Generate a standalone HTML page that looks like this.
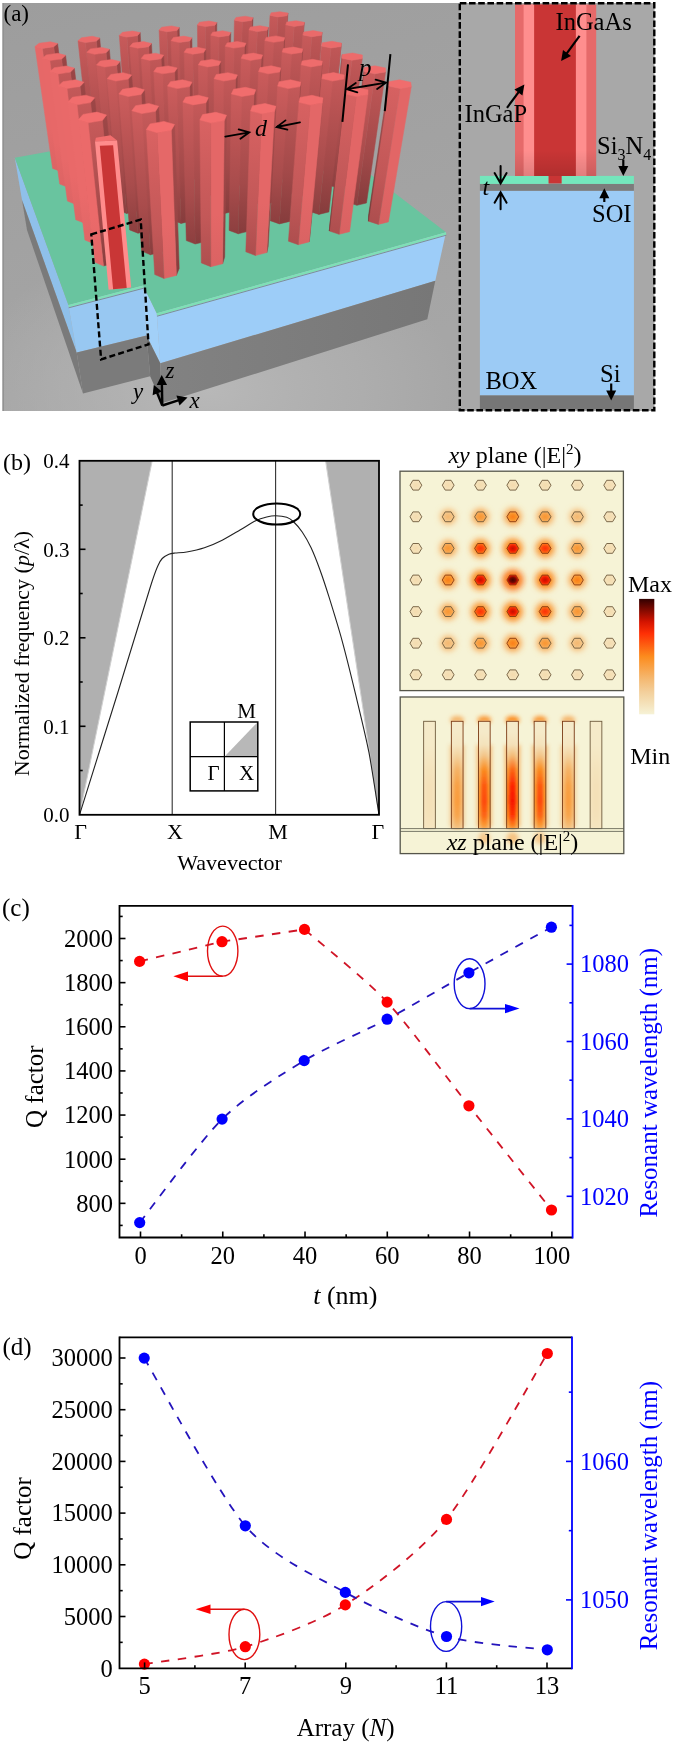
<!DOCTYPE html>
<html><head><meta charset="utf-8"><style>
html,body{margin:0;padding:0;background:#fff;overflow:hidden;width:675px;height:1744px;}
svg{display:block;font-family:"Liberation Serif",serif;} text{opacity:0.999;}
</style></head><body>
<svg width="675" height="1744" viewBox="0 0 675 1744">
<rect width="675" height="1744" fill="#fff"/>
<defs><linearGradient id="bgA" x1="0" y1="0" x2="0.3" y2="1"><stop offset="0" stop-color="#9d9d9d"/><stop offset="1" stop-color="#a6a6a6"/></linearGradient><radialGradient id="bgR" gradientUnits="userSpaceOnUse" cx="210" cy="390" r="250" gradientTransform="translate(210 390) scale(1 0.6) translate(-210 -390)"><stop offset="0" stop-color="#b8b8b8" stop-opacity="1"/><stop offset="0.6" stop-color="#b2b2b2" stop-opacity="0.6"/><stop offset="1" stop-color="#b2b2b2" stop-opacity="0"/></radialGradient><linearGradient id="gfront" x1="0" y1="0" x2="1" y2="0"><stop offset="0" stop-color="#828282"/><stop offset="1" stop-color="#777777"/></linearGradient></defs><rect x="2.5" y="3" width="457" height="408" fill="url(#bgA)"/><rect x="2.5" y="3" width="457" height="408" fill="url(#bgR)"/><rect x="2.5" y="3" width="1.5" height="408" fill="#929292"/><defs><linearGradient id="g6029" gradientUnits="userSpaceOnUse" x1="288.0" y1="13.1" x2="281.1" y2="125.2"><stop offset="0" stop-color="#ad4e4e"/><stop offset="0.3" stop-color="#ad4e4e"/><stop offset="0.65" stop-color="#ad4e4e"/><stop offset="1" stop-color="#a64b4b"/></linearGradient><linearGradient id="g6090" gradientUnits="userSpaceOnUse" x1="287.1" y1="15.7" x2="280.2" y2="128.7"><stop offset="0" stop-color="#bc5555"/><stop offset="0.3" stop-color="#ad4e4e"/><stop offset="0.65" stop-color="#9c4646"/><stop offset="1" stop-color="#823b3b"/></linearGradient><linearGradient id="g60149" gradientUnits="userSpaceOnUse" x1="278.0" y1="16.9" x2="271.9" y2="130.3"><stop offset="0" stop-color="#c55959"/><stop offset="0.3" stop-color="#b55252"/><stop offset="0.65" stop-color="#a34a4a"/><stop offset="1" stop-color="#883d3d"/></linearGradient><linearGradient id="g5029" gradientUnits="userSpaceOnUse" x1="253.0" y1="17.7" x2="249.2" y2="131.2"><stop offset="0" stop-color="#974444"/><stop offset="0.3" stop-color="#8b3f3f"/><stop offset="0.65" stop-color="#7d3838"/><stop offset="1" stop-color="#682f2f"/></linearGradient><linearGradient id="g5090" gradientUnits="userSpaceOnUse" x1="251.7" y1="20.4" x2="248.0" y2="134.8"><stop offset="0" stop-color="#bd5555"/><stop offset="0.3" stop-color="#ae4e4e"/><stop offset="0.65" stop-color="#9c4747"/><stop offset="1" stop-color="#823b3b"/></linearGradient><linearGradient id="g50149" gradientUnits="userSpaceOnUse" x1="242.3" y1="21.7" x2="239.4" y2="136.5"><stop offset="0" stop-color="#c65959"/><stop offset="0.3" stop-color="#b65252"/><stop offset="0.65" stop-color="#a34a4a"/><stop offset="1" stop-color="#883e3e"/></linearGradient><linearGradient id="g4029" gradientUnits="userSpaceOnUse" x1="216.8" y1="22.5" x2="216.3" y2="137.4"><stop offset="0" stop-color="#984545"/><stop offset="0.3" stop-color="#8b3f3f"/><stop offset="0.65" stop-color="#7d3939"/><stop offset="1" stop-color="#682f2f"/></linearGradient><linearGradient id="g4090" gradientUnits="userSpaceOnUse" x1="215.0" y1="25.3" x2="214.7" y2="141.2"><stop offset="0" stop-color="#bd5656"/><stop offset="0.3" stop-color="#ae4f4f"/><stop offset="0.65" stop-color="#9d4747"/><stop offset="1" stop-color="#823b3b"/></linearGradient><linearGradient id="g40149" gradientUnits="userSpaceOnUse" x1="205.3" y1="26.6" x2="205.8" y2="142.9"><stop offset="0" stop-color="#c65a5a"/><stop offset="0.3" stop-color="#b65252"/><stop offset="0.65" stop-color="#a44a4a"/><stop offset="1" stop-color="#893e3e"/></linearGradient><linearGradient id="g6129" gradientUnits="userSpaceOnUse" x1="304.4" y1="22.3" x2="295.7" y2="137.6"><stop offset="0" stop-color="#ae4f4f"/><stop offset="0.3" stop-color="#ae4f4f"/><stop offset="0.65" stop-color="#ae4f4f"/><stop offset="1" stop-color="#a74c4c"/></linearGradient><linearGradient id="g6190" gradientUnits="userSpaceOnUse" x1="303.6" y1="25.1" x2="294.9" y2="141.4"><stop offset="0" stop-color="#be5656"/><stop offset="0.3" stop-color="#ae4f4f"/><stop offset="0.65" stop-color="#9d4747"/><stop offset="1" stop-color="#833b3b"/></linearGradient><linearGradient id="g61149" gradientUnits="userSpaceOnUse" x1="294.2" y1="26.4" x2="286.4" y2="143.1"><stop offset="0" stop-color="#c65a5a"/><stop offset="0.3" stop-color="#b65252"/><stop offset="0.65" stop-color="#a44a4a"/><stop offset="1" stop-color="#893e3e"/></linearGradient><linearGradient id="g3029" gradientUnits="userSpaceOnUse" x1="179.2" y1="27.5" x2="182.2" y2="143.9"><stop offset="0" stop-color="#984545"/><stop offset="0.3" stop-color="#8c3f3f"/><stop offset="0.65" stop-color="#7e3939"/><stop offset="1" stop-color="#692f2f"/></linearGradient><linearGradient id="g3090" gradientUnits="userSpaceOnUse" x1="177.0" y1="30.4" x2="180.2" y2="147.8"><stop offset="0" stop-color="#be5656"/><stop offset="0.3" stop-color="#af4f4f"/><stop offset="0.65" stop-color="#9d4747"/><stop offset="1" stop-color="#833b3b"/></linearGradient><linearGradient id="g30149" gradientUnits="userSpaceOnUse" x1="166.8" y1="31.7" x2="171.1" y2="149.5"><stop offset="0" stop-color="#c65a5a"/><stop offset="0.3" stop-color="#b65353"/><stop offset="0.65" stop-color="#a44a4a"/><stop offset="1" stop-color="#893e3e"/></linearGradient><linearGradient id="g5129" gradientUnits="userSpaceOnUse" x1="268.3" y1="27.3" x2="262.9" y2="144.1"><stop offset="0" stop-color="#984545"/><stop offset="0.3" stop-color="#8c3f3f"/><stop offset="0.65" stop-color="#7e3939"/><stop offset="1" stop-color="#692f2f"/></linearGradient><linearGradient id="g5190" gradientUnits="userSpaceOnUse" x1="267.1" y1="30.2" x2="261.8" y2="148.0"><stop offset="0" stop-color="#be5656"/><stop offset="0.3" stop-color="#af4f4f"/><stop offset="0.65" stop-color="#9d4747"/><stop offset="1" stop-color="#833b3b"/></linearGradient><linearGradient id="g51149" gradientUnits="userSpaceOnUse" x1="257.3" y1="31.6" x2="252.9" y2="149.7"><stop offset="0" stop-color="#c75a5a"/><stop offset="0.3" stop-color="#b75353"/><stop offset="0.65" stop-color="#a44a4a"/><stop offset="1" stop-color="#893e3e"/></linearGradient><linearGradient id="g2029" gradientUnits="userSpaceOnUse" x1="140.2" y1="32.6" x2="147.0" y2="150.6"><stop offset="0" stop-color="#994545"/><stop offset="0.3" stop-color="#8c3f3f"/><stop offset="0.65" stop-color="#7e3939"/><stop offset="1" stop-color="#692f2f"/></linearGradient><linearGradient id="g2090" gradientUnits="userSpaceOnUse" x1="137.4" y1="35.7" x2="144.6" y2="154.6"><stop offset="0" stop-color="#bf5656"/><stop offset="0.3" stop-color="#af4f4f"/><stop offset="0.65" stop-color="#9e4747"/><stop offset="1" stop-color="#833b3b"/></linearGradient><linearGradient id="g20149" gradientUnits="userSpaceOnUse" x1="126.9" y1="37.1" x2="135.1" y2="156.4"><stop offset="0" stop-color="#c75a5a"/><stop offset="0.3" stop-color="#b75353"/><stop offset="0.65" stop-color="#a54a4a"/><stop offset="1" stop-color="#893e3e"/></linearGradient><linearGradient id="g4129" gradientUnits="userSpaceOnUse" x1="230.8" y1="32.4" x2="229.0" y2="150.8"><stop offset="0" stop-color="#994545"/><stop offset="0.3" stop-color="#8c3f3f"/><stop offset="0.65" stop-color="#7e3939"/><stop offset="1" stop-color="#692f2f"/></linearGradient><linearGradient id="g4190" gradientUnits="userSpaceOnUse" x1="229.1" y1="35.5" x2="227.4" y2="154.8"><stop offset="0" stop-color="#bf5656"/><stop offset="0.3" stop-color="#af4f4f"/><stop offset="0.65" stop-color="#9e4747"/><stop offset="1" stop-color="#833b3b"/></linearGradient><linearGradient id="g41149" gradientUnits="userSpaceOnUse" x1="219.0" y1="36.9" x2="218.3" y2="156.6"><stop offset="0" stop-color="#c75a5a"/><stop offset="0.3" stop-color="#b75353"/><stop offset="0.65" stop-color="#a54a4a"/><stop offset="1" stop-color="#893e3e"/></linearGradient><linearGradient id="g6229" gradientUnits="userSpaceOnUse" x1="322.1" y1="32.3" x2="311.4" y2="151.0"><stop offset="0" stop-color="#b04f4f"/><stop offset="0.3" stop-color="#b04f4f"/><stop offset="0.65" stop-color="#b04f4f"/><stop offset="1" stop-color="#a94c4c"/></linearGradient><linearGradient id="g6290" gradientUnits="userSpaceOnUse" x1="321.5" y1="35.3" x2="310.8" y2="155.0"><stop offset="0" stop-color="#bf5656"/><stop offset="0.3" stop-color="#af4f4f"/><stop offset="0.65" stop-color="#9e4747"/><stop offset="1" stop-color="#833b3b"/></linearGradient><linearGradient id="g62149" gradientUnits="userSpaceOnUse" x1="311.8" y1="36.7" x2="302.0" y2="156.9"><stop offset="0" stop-color="#c75a5a"/><stop offset="0.3" stop-color="#b75353"/><stop offset="0.65" stop-color="#a54a4a"/><stop offset="1" stop-color="#893e3e"/></linearGradient><linearGradient id="g1029" gradientUnits="userSpaceOnUse" x1="99.7" y1="38.0" x2="110.5" y2="157.5"><stop offset="0" stop-color="#994545"/><stop offset="0.3" stop-color="#8d4040"/><stop offset="0.65" stop-color="#7f3939"/><stop offset="1" stop-color="#693030"/></linearGradient><linearGradient id="g1090" gradientUnits="userSpaceOnUse" x1="96.4" y1="41.1" x2="107.7" y2="161.6"><stop offset="0" stop-color="#bf5757"/><stop offset="0.3" stop-color="#b05050"/><stop offset="0.65" stop-color="#9e4848"/><stop offset="1" stop-color="#843c3c"/></linearGradient><linearGradient id="g10149" gradientUnits="userSpaceOnUse" x1="85.4" y1="42.6" x2="97.9" y2="163.5"><stop offset="0" stop-color="#c75a5a"/><stop offset="0.3" stop-color="#b75353"/><stop offset="0.65" stop-color="#a54b4b"/><stop offset="1" stop-color="#893e3e"/></linearGradient><linearGradient id="g3129" gradientUnits="userSpaceOnUse" x1="191.9" y1="37.8" x2="193.8" y2="157.7"><stop offset="0" stop-color="#994545"/><stop offset="0.3" stop-color="#8d4040"/><stop offset="0.65" stop-color="#7f3939"/><stop offset="1" stop-color="#6a3030"/></linearGradient><linearGradient id="g3190" gradientUnits="userSpaceOnUse" x1="189.7" y1="41.0" x2="191.9" y2="161.9"><stop offset="0" stop-color="#bf5757"/><stop offset="0.3" stop-color="#b05050"/><stop offset="0.65" stop-color="#9e4848"/><stop offset="1" stop-color="#843c3c"/></linearGradient><linearGradient id="g31149" gradientUnits="userSpaceOnUse" x1="179.2" y1="42.5" x2="182.4" y2="163.8"><stop offset="0" stop-color="#c75a5a"/><stop offset="0.3" stop-color="#b75353"/><stop offset="0.65" stop-color="#a54b4b"/><stop offset="1" stop-color="#893e3e"/></linearGradient><linearGradient id="g5229" gradientUnits="userSpaceOnUse" x1="284.8" y1="37.7" x2="277.6" y2="157.9"><stop offset="0" stop-color="#994545"/><stop offset="0.3" stop-color="#8d4040"/><stop offset="0.65" stop-color="#7f3939"/><stop offset="1" stop-color="#6a3030"/></linearGradient><linearGradient id="g5290" gradientUnits="userSpaceOnUse" x1="283.8" y1="40.8" x2="276.6" y2="162.1"><stop offset="0" stop-color="#c05757"/><stop offset="0.3" stop-color="#b05050"/><stop offset="0.65" stop-color="#9e4848"/><stop offset="1" stop-color="#843c3c"/></linearGradient><linearGradient id="g52149" gradientUnits="userSpaceOnUse" x1="273.7" y1="42.3" x2="267.5" y2="164.0"><stop offset="0" stop-color="#c75a5a"/><stop offset="0.3" stop-color="#b75353"/><stop offset="0.65" stop-color="#a54b4b"/><stop offset="1" stop-color="#893e3e"/></linearGradient><linearGradient id="g0029" gradientUnits="userSpaceOnUse" x1="57.6" y1="43.5" x2="72.8" y2="164.6"><stop offset="0" stop-color="#9a4545"/><stop offset="0.3" stop-color="#8d4040"/><stop offset="0.65" stop-color="#7f3939"/><stop offset="1" stop-color="#6a3030"/></linearGradient><linearGradient id="g0090" gradientUnits="userSpaceOnUse" x1="53.7" y1="46.8" x2="69.4" y2="168.9"><stop offset="0" stop-color="#c05757"/><stop offset="0.3" stop-color="#b05050"/><stop offset="0.65" stop-color="#9f4848"/><stop offset="1" stop-color="#843c3c"/></linearGradient><linearGradient id="g00149" gradientUnits="userSpaceOnUse" x1="42.3" y1="48.4" x2="59.3" y2="170.9"><stop offset="0" stop-color="#e66868"/><stop offset="0.3" stop-color="#e66868"/><stop offset="0.65" stop-color="#e66868"/><stop offset="1" stop-color="#dc6464"/></linearGradient><linearGradient id="g2129" gradientUnits="userSpaceOnUse" x1="151.5" y1="43.4" x2="157.4" y2="164.9"><stop offset="0" stop-color="#9a4545"/><stop offset="0.3" stop-color="#8d4040"/><stop offset="0.65" stop-color="#7f3939"/><stop offset="1" stop-color="#6a3030"/></linearGradient><linearGradient id="g2190" gradientUnits="userSpaceOnUse" x1="148.7" y1="46.7" x2="155.0" y2="169.2"><stop offset="0" stop-color="#c05757"/><stop offset="0.3" stop-color="#b15050"/><stop offset="0.65" stop-color="#9f4848"/><stop offset="1" stop-color="#843c3c"/></linearGradient><linearGradient id="g21149" gradientUnits="userSpaceOnUse" x1="137.8" y1="48.2" x2="145.2" y2="171.1"><stop offset="0" stop-color="#c85a5a"/><stop offset="0.3" stop-color="#b85353"/><stop offset="0.65" stop-color="#a54b4b"/><stop offset="1" stop-color="#8a3e3e"/></linearGradient><linearGradient id="g4229" gradientUnits="userSpaceOnUse" x1="246.1" y1="43.3" x2="242.6" y2="165.1"><stop offset="0" stop-color="#9a4545"/><stop offset="0.3" stop-color="#8d4040"/><stop offset="0.65" stop-color="#7f3939"/><stop offset="1" stop-color="#6a3030"/></linearGradient><linearGradient id="g4290" gradientUnits="userSpaceOnUse" x1="244.5" y1="46.6" x2="241.2" y2="169.5"><stop offset="0" stop-color="#c05757"/><stop offset="0.3" stop-color="#b15050"/><stop offset="0.65" stop-color="#9f4848"/><stop offset="1" stop-color="#843c3c"/></linearGradient><linearGradient id="g42149" gradientUnits="userSpaceOnUse" x1="234.1" y1="48.1" x2="231.7" y2="171.4"><stop offset="0" stop-color="#c85a5a"/><stop offset="0.3" stop-color="#b85353"/><stop offset="0.65" stop-color="#a54b4b"/><stop offset="1" stop-color="#8a3e3e"/></linearGradient><linearGradient id="g6329" gradientUnits="userSpaceOnUse" x1="341.4" y1="43.1" x2="328.4" y2="165.4"><stop offset="0" stop-color="#b15050"/><stop offset="0.3" stop-color="#b15050"/><stop offset="0.65" stop-color="#b15050"/><stop offset="1" stop-color="#aa4d4d"/></linearGradient><linearGradient id="g6390" gradientUnits="userSpaceOnUse" x1="341.0" y1="46.5" x2="327.9" y2="169.8"><stop offset="0" stop-color="#c05757"/><stop offset="0.3" stop-color="#b15050"/><stop offset="0.65" stop-color="#9f4848"/><stop offset="1" stop-color="#843c3c"/></linearGradient><linearGradient id="g63149" gradientUnits="userSpaceOnUse" x1="331.0" y1="48.0" x2="318.8" y2="171.7"><stop offset="0" stop-color="#c85a5a"/><stop offset="0.3" stop-color="#b85353"/><stop offset="0.65" stop-color="#a54b4b"/><stop offset="1" stop-color="#8a3e3e"/></linearGradient><linearGradient id="g1129" gradientUnits="userSpaceOnUse" x1="109.4" y1="49.2" x2="119.7" y2="172.3"><stop offset="0" stop-color="#9a4646"/><stop offset="0.3" stop-color="#8e4040"/><stop offset="0.65" stop-color="#803a3a"/><stop offset="1" stop-color="#6a3030"/></linearGradient><linearGradient id="g1190" gradientUnits="userSpaceOnUse" x1="106.1" y1="52.7" x2="116.8" y2="176.8"><stop offset="0" stop-color="#c15757"/><stop offset="0.3" stop-color="#b15050"/><stop offset="0.65" stop-color="#9f4848"/><stop offset="1" stop-color="#853c3c"/></linearGradient><linearGradient id="g11149" gradientUnits="userSpaceOnUse" x1="94.7" y1="54.3" x2="106.7" y2="178.8"><stop offset="0" stop-color="#c85b5b"/><stop offset="0.3" stop-color="#b85353"/><stop offset="0.65" stop-color="#a64b4b"/><stop offset="1" stop-color="#8a3e3e"/></linearGradient><linearGradient id="g3229" gradientUnits="userSpaceOnUse" x1="205.8" y1="49.1" x2="206.3" y2="172.6"><stop offset="0" stop-color="#9a4646"/><stop offset="0.3" stop-color="#8e4040"/><stop offset="0.65" stop-color="#803a3a"/><stop offset="1" stop-color="#6a3030"/></linearGradient><linearGradient id="g3290" gradientUnits="userSpaceOnUse" x1="203.7" y1="52.6" x2="204.4" y2="177.1"><stop offset="0" stop-color="#c15757"/><stop offset="0.3" stop-color="#b15050"/><stop offset="0.65" stop-color="#9f4848"/><stop offset="1" stop-color="#853c3c"/></linearGradient><linearGradient id="g32149" gradientUnits="userSpaceOnUse" x1="192.8" y1="54.2" x2="194.7" y2="179.1"><stop offset="0" stop-color="#c85b5b"/><stop offset="0.3" stop-color="#b85353"/><stop offset="0.65" stop-color="#a64b4b"/><stop offset="1" stop-color="#8a3e3e"/></linearGradient><linearGradient id="g5329" gradientUnits="userSpaceOnUse" x1="302.9" y1="49.0" x2="293.5" y2="172.9"><stop offset="0" stop-color="#9a4646"/><stop offset="0.3" stop-color="#8e4040"/><stop offset="0.65" stop-color="#803a3a"/><stop offset="1" stop-color="#6a3030"/></linearGradient><linearGradient id="g5390" gradientUnits="userSpaceOnUse" x1="302.0" y1="52.4" x2="292.6" y2="177.4"><stop offset="0" stop-color="#c15757"/><stop offset="0.3" stop-color="#b15050"/><stop offset="0.65" stop-color="#a04848"/><stop offset="1" stop-color="#853c3c"/></linearGradient><linearGradient id="g53149" gradientUnits="userSpaceOnUse" x1="291.6" y1="54.0" x2="283.3" y2="179.5"><stop offset="0" stop-color="#c85b5b"/><stop offset="0.3" stop-color="#b85353"/><stop offset="0.65" stop-color="#a64b4b"/><stop offset="1" stop-color="#8a3e3e"/></linearGradient><linearGradient id="g0129" gradientUnits="userSpaceOnUse" x1="65.6" y1="55.3" x2="80.6" y2="180.0"><stop offset="0" stop-color="#9b4646"/><stop offset="0.3" stop-color="#8e4040"/><stop offset="0.65" stop-color="#803a3a"/><stop offset="1" stop-color="#6b3030"/></linearGradient><linearGradient id="g0190" gradientUnits="userSpaceOnUse" x1="61.6" y1="58.9" x2="77.2" y2="184.7"><stop offset="0" stop-color="#c15757"/><stop offset="0.3" stop-color="#b25050"/><stop offset="0.65" stop-color="#a04848"/><stop offset="1" stop-color="#853c3c"/></linearGradient><linearGradient id="g01149" gradientUnits="userSpaceOnUse" x1="49.8" y1="60.5" x2="66.7" y2="186.8"><stop offset="0" stop-color="#e76868"/><stop offset="0.3" stop-color="#e76868"/><stop offset="0.65" stop-color="#e76868"/><stop offset="1" stop-color="#dd6464"/></linearGradient><linearGradient id="g2229" gradientUnits="userSpaceOnUse" x1="163.8" y1="55.2" x2="168.7" y2="180.3"><stop offset="0" stop-color="#9b4646"/><stop offset="0.3" stop-color="#8e4040"/><stop offset="0.65" stop-color="#803a3a"/><stop offset="1" stop-color="#6b3030"/></linearGradient><linearGradient id="g2290" gradientUnits="userSpaceOnUse" x1="161.1" y1="58.8" x2="166.3" y2="185.0"><stop offset="0" stop-color="#c15757"/><stop offset="0.3" stop-color="#b25050"/><stop offset="0.65" stop-color="#a04848"/><stop offset="1" stop-color="#853c3c"/></linearGradient><linearGradient id="g22149" gradientUnits="userSpaceOnUse" x1="149.7" y1="60.4" x2="156.2" y2="187.1"><stop offset="0" stop-color="#c95b5b"/><stop offset="0.3" stop-color="#b95353"/><stop offset="0.65" stop-color="#a64b4b"/><stop offset="1" stop-color="#8a3f3f"/></linearGradient><linearGradient id="g4329" gradientUnits="userSpaceOnUse" x1="262.7" y1="55.1" x2="257.4" y2="180.6"><stop offset="0" stop-color="#9b4646"/><stop offset="0.3" stop-color="#8e4040"/><stop offset="0.65" stop-color="#803a3a"/><stop offset="1" stop-color="#6b3030"/></linearGradient><linearGradient id="g4390" gradientUnits="userSpaceOnUse" x1="261.3" y1="58.7" x2="256.1" y2="185.4"><stop offset="0" stop-color="#c15858"/><stop offset="0.3" stop-color="#b25050"/><stop offset="0.65" stop-color="#a04848"/><stop offset="1" stop-color="#853c3c"/></linearGradient><linearGradient id="g43149" gradientUnits="userSpaceOnUse" x1="250.4" y1="60.4" x2="246.3" y2="187.5"><stop offset="0" stop-color="#c95b5b"/><stop offset="0.3" stop-color="#b95353"/><stop offset="0.65" stop-color="#a64b4b"/><stop offset="1" stop-color="#8a3f3f"/></linearGradient><linearGradient id="g6490" gradientUnits="userSpaceOnUse" x1="362.3" y1="58.6" x2="346.4" y2="185.7"><stop offset="0" stop-color="#c25858"/><stop offset="0.3" stop-color="#b25050"/><stop offset="0.65" stop-color="#a04848"/><stop offset="1" stop-color="#853c3c"/></linearGradient><linearGradient id="g64149" gradientUnits="userSpaceOnUse" x1="351.9" y1="60.3" x2="337.1" y2="187.8"><stop offset="0" stop-color="#c95b5b"/><stop offset="0.3" stop-color="#b95454"/><stop offset="0.65" stop-color="#a64b4b"/><stop offset="1" stop-color="#8a3f3f"/></linearGradient><linearGradient id="g64210" gradientUnits="userSpaceOnUse" x1="341.9" y1="58.2" x2="328.2" y2="185.1"><stop offset="0" stop-color="#a54b4b"/><stop offset="0.3" stop-color="#984545"/><stop offset="0.65" stop-color="#883e3e"/><stop offset="1" stop-color="#723333"/></linearGradient><linearGradient id="g1229" gradientUnits="userSpaceOnUse" x1="120.0" y1="61.5" x2="129.6" y2="188.3"><stop offset="0" stop-color="#9b4646"/><stop offset="0.3" stop-color="#8f4040"/><stop offset="0.65" stop-color="#803a3a"/><stop offset="1" stop-color="#6b3030"/></linearGradient><linearGradient id="g1290" gradientUnits="userSpaceOnUse" x1="116.7" y1="65.3" x2="126.8" y2="193.2"><stop offset="0" stop-color="#c25858"/><stop offset="0.3" stop-color="#b25151"/><stop offset="0.65" stop-color="#a04949"/><stop offset="1" stop-color="#863c3c"/></linearGradient><linearGradient id="g12149" gradientUnits="userSpaceOnUse" x1="104.8" y1="67.0" x2="116.2" y2="195.4"><stop offset="0" stop-color="#c95b5b"/><stop offset="0.3" stop-color="#b95454"/><stop offset="0.65" stop-color="#a64b4b"/><stop offset="1" stop-color="#8b3f3f"/></linearGradient><linearGradient id="g3329" gradientUnits="userSpaceOnUse" x1="220.9" y1="61.4" x2="219.9" y2="188.7"><stop offset="0" stop-color="#9b4646"/><stop offset="0.3" stop-color="#8f4141"/><stop offset="0.65" stop-color="#803a3a"/><stop offset="1" stop-color="#6b3030"/></linearGradient><linearGradient id="g3390" gradientUnits="userSpaceOnUse" x1="218.9" y1="65.2" x2="218.1" y2="193.6"><stop offset="0" stop-color="#c25858"/><stop offset="0.3" stop-color="#b25151"/><stop offset="0.65" stop-color="#a14949"/><stop offset="1" stop-color="#863c3c"/></linearGradient><linearGradient id="g33149" gradientUnits="userSpaceOnUse" x1="207.6" y1="66.9" x2="208.0" y2="195.8"><stop offset="0" stop-color="#c95b5b"/><stop offset="0.3" stop-color="#b95454"/><stop offset="0.65" stop-color="#a64b4b"/><stop offset="1" stop-color="#8b3f3f"/></linearGradient><linearGradient id="g5429" gradientUnits="userSpaceOnUse" x1="322.5" y1="61.3" x2="310.7" y2="189.1"><stop offset="0" stop-color="#9b4646"/><stop offset="0.3" stop-color="#8f4141"/><stop offset="0.65" stop-color="#813a3a"/><stop offset="1" stop-color="#6b3030"/></linearGradient><linearGradient id="g5490" gradientUnits="userSpaceOnUse" x1="321.9" y1="65.1" x2="310.0" y2="194.0"><stop offset="0" stop-color="#c25858"/><stop offset="0.3" stop-color="#b35151"/><stop offset="0.65" stop-color="#a14949"/><stop offset="1" stop-color="#863c3c"/></linearGradient><linearGradient id="g54149" gradientUnits="userSpaceOnUse" x1="311.1" y1="66.9" x2="300.3" y2="196.2"><stop offset="0" stop-color="#c95b5b"/><stop offset="0.3" stop-color="#b95454"/><stop offset="0.65" stop-color="#a74b4b"/><stop offset="1" stop-color="#8b3f3f"/></linearGradient><linearGradient id="g0229" gradientUnits="userSpaceOnUse" x1="74.4" y1="68.1" x2="89.1" y2="196.7"><stop offset="0" stop-color="#9c4646"/><stop offset="0.3" stop-color="#8f4141"/><stop offset="0.65" stop-color="#813a3a"/><stop offset="1" stop-color="#6b3030"/></linearGradient><linearGradient id="g0290" gradientUnits="userSpaceOnUse" x1="70.4" y1="72.1" x2="85.7" y2="201.8"><stop offset="0" stop-color="#c35858"/><stop offset="0.3" stop-color="#b35151"/><stop offset="0.65" stop-color="#a14949"/><stop offset="1" stop-color="#863d3d"/></linearGradient><linearGradient id="g02149" gradientUnits="userSpaceOnUse" x1="58.0" y1="73.9" x2="74.7" y2="204.0"><stop offset="0" stop-color="#e86969"/><stop offset="0.3" stop-color="#e86969"/><stop offset="0.65" stop-color="#e86969"/><stop offset="1" stop-color="#de6565"/></linearGradient><linearGradient id="g2329" gradientUnits="userSpaceOnUse" x1="177.3" y1="68.0" x2="180.9" y2="197.1"><stop offset="0" stop-color="#9c4646"/><stop offset="0.3" stop-color="#8f4141"/><stop offset="0.65" stop-color="#813a3a"/><stop offset="1" stop-color="#6b3030"/></linearGradient><linearGradient id="g2390" gradientUnits="userSpaceOnUse" x1="174.6" y1="72.0" x2="178.6" y2="202.2"><stop offset="0" stop-color="#c35858"/><stop offset="0.3" stop-color="#b35151"/><stop offset="0.65" stop-color="#a14949"/><stop offset="1" stop-color="#863d3d"/></linearGradient><linearGradient id="g23149" gradientUnits="userSpaceOnUse" x1="162.8" y1="73.8" x2="168.1" y2="204.5"><stop offset="0" stop-color="#ca5b5b"/><stop offset="0.3" stop-color="#b95454"/><stop offset="0.65" stop-color="#a74b4b"/><stop offset="1" stop-color="#8b3f3f"/></linearGradient><linearGradient id="g4429" gradientUnits="userSpaceOnUse" x1="280.9" y1="68.0" x2="273.4" y2="197.5"><stop offset="0" stop-color="#9c4646"/><stop offset="0.3" stop-color="#8f4141"/><stop offset="0.65" stop-color="#813a3a"/><stop offset="1" stop-color="#6b3030"/></linearGradient><linearGradient id="g4490" gradientUnits="userSpaceOnUse" x1="279.7" y1="72.0" x2="272.2" y2="202.6"><stop offset="0" stop-color="#c35858"/><stop offset="0.3" stop-color="#b35151"/><stop offset="0.65" stop-color="#a14949"/><stop offset="1" stop-color="#863d3d"/></linearGradient><linearGradient id="g44149" gradientUnits="userSpaceOnUse" x1="268.4" y1="73.8" x2="262.1" y2="204.9"><stop offset="0" stop-color="#ca5b5b"/><stop offset="0.3" stop-color="#b95454"/><stop offset="0.65" stop-color="#a74b4b"/><stop offset="1" stop-color="#8b3f3f"/></linearGradient><linearGradient id="g6590" gradientUnits="userSpaceOnUse" x1="385.6" y1="71.9" x2="366.5" y2="203.0"><stop offset="0" stop-color="#c35858"/><stop offset="0.3" stop-color="#b35151"/><stop offset="0.65" stop-color="#a14949"/><stop offset="1" stop-color="#863d3d"/></linearGradient><linearGradient id="g65149" gradientUnits="userSpaceOnUse" x1="374.9" y1="73.8" x2="356.9" y2="205.3"><stop offset="0" stop-color="#ca5b5b"/><stop offset="0.3" stop-color="#ba5454"/><stop offset="0.65" stop-color="#a74b4b"/><stop offset="1" stop-color="#8b3f3f"/></linearGradient><linearGradient id="g65210" gradientUnits="userSpaceOnUse" x1="364.2" y1="71.5" x2="347.4" y2="202.4"><stop offset="0" stop-color="#a64b4b"/><stop offset="0.3" stop-color="#994545"/><stop offset="0.65" stop-color="#893e3e"/><stop offset="1" stop-color="#723434"/></linearGradient><linearGradient id="g1329" gradientUnits="userSpaceOnUse" x1="131.7" y1="75.0" x2="140.4" y2="205.8"><stop offset="0" stop-color="#9c4747"/><stop offset="0.3" stop-color="#904141"/><stop offset="0.65" stop-color="#813a3a"/><stop offset="1" stop-color="#6c3131"/></linearGradient><linearGradient id="g1390" gradientUnits="userSpaceOnUse" x1="128.3" y1="79.1" x2="137.6" y2="211.1"><stop offset="0" stop-color="#c35858"/><stop offset="0.3" stop-color="#b45151"/><stop offset="0.65" stop-color="#a24949"/><stop offset="1" stop-color="#873d3d"/></linearGradient><linearGradient id="g13149" gradientUnits="userSpaceOnUse" x1="116.0" y1="81.0" x2="126.6" y2="213.5"><stop offset="0" stop-color="#ca5b5b"/><stop offset="0.3" stop-color="#ba5454"/><stop offset="0.65" stop-color="#a74c4c"/><stop offset="1" stop-color="#8b3f3f"/></linearGradient><linearGradient id="g3429" gradientUnits="userSpaceOnUse" x1="237.5" y1="74.9" x2="234.6" y2="206.2"><stop offset="0" stop-color="#9c4747"/><stop offset="0.3" stop-color="#904141"/><stop offset="0.65" stop-color="#813a3a"/><stop offset="1" stop-color="#6c3131"/></linearGradient><linearGradient id="g3490" gradientUnits="userSpaceOnUse" x1="235.6" y1="79.1" x2="232.9" y2="211.6"><stop offset="0" stop-color="#c35858"/><stop offset="0.3" stop-color="#b45151"/><stop offset="0.65" stop-color="#a24949"/><stop offset="1" stop-color="#873d3d"/></linearGradient><linearGradient id="g34149" gradientUnits="userSpaceOnUse" x1="223.8" y1="81.0" x2="222.4" y2="213.9"><stop offset="0" stop-color="#ca5b5b"/><stop offset="0.3" stop-color="#ba5454"/><stop offset="0.65" stop-color="#a74c4c"/><stop offset="1" stop-color="#8b3f3f"/></linearGradient><linearGradient id="g5590" gradientUnits="userSpaceOnUse" x1="343.8" y1="79.1" x2="328.9" y2="212.0"><stop offset="0" stop-color="#c45858"/><stop offset="0.3" stop-color="#b45151"/><stop offset="0.65" stop-color="#a24949"/><stop offset="1" stop-color="#873d3d"/></linearGradient><linearGradient id="g55149" gradientUnits="userSpaceOnUse" x1="332.6" y1="81.0" x2="318.9" y2="214.4"><stop offset="0" stop-color="#ca5b5b"/><stop offset="0.3" stop-color="#ba5454"/><stop offset="0.65" stop-color="#a74c4c"/><stop offset="1" stop-color="#8b3f3f"/></linearGradient><linearGradient id="g0329" gradientUnits="userSpaceOnUse" x1="84.1" y1="82.2" x2="98.3" y2="214.8"><stop offset="0" stop-color="#9d4747"/><stop offset="0.3" stop-color="#904141"/><stop offset="0.65" stop-color="#823b3b"/><stop offset="1" stop-color="#6c3131"/></linearGradient><linearGradient id="g0390" gradientUnits="userSpaceOnUse" x1="80.0" y1="86.5" x2="94.9" y2="220.4"><stop offset="0" stop-color="#c45959"/><stop offset="0.3" stop-color="#b45151"/><stop offset="0.65" stop-color="#a24949"/><stop offset="1" stop-color="#873d3d"/></linearGradient><linearGradient id="g03149" gradientUnits="userSpaceOnUse" x1="67.0" y1="88.5" x2="83.5" y2="222.8"><stop offset="0" stop-color="#e96969"/><stop offset="0.3" stop-color="#e96969"/><stop offset="0.65" stop-color="#e96969"/><stop offset="1" stop-color="#df6565"/></linearGradient><linearGradient id="g2429" gradientUnits="userSpaceOnUse" x1="192.1" y1="82.2" x2="194.2" y2="215.3"><stop offset="0" stop-color="#9d4747"/><stop offset="0.3" stop-color="#904141"/><stop offset="0.65" stop-color="#823b3b"/><stop offset="1" stop-color="#6c3131"/></linearGradient><linearGradient id="g2490" gradientUnits="userSpaceOnUse" x1="189.5" y1="86.6" x2="192.0" y2="220.9"><stop offset="0" stop-color="#c45959"/><stop offset="0.3" stop-color="#b45252"/><stop offset="0.65" stop-color="#a24949"/><stop offset="1" stop-color="#873d3d"/></linearGradient><linearGradient id="g24149" gradientUnits="userSpaceOnUse" x1="177.2" y1="88.6" x2="181.1" y2="223.4"><stop offset="0" stop-color="#cb5c5c"/><stop offset="0.3" stop-color="#ba5454"/><stop offset="0.65" stop-color="#a84c4c"/><stop offset="1" stop-color="#8c3f3f"/></linearGradient><linearGradient id="g4529" gradientUnits="userSpaceOnUse" x1="301.0" y1="82.2" x2="290.9" y2="215.8"><stop offset="0" stop-color="#9d4747"/><stop offset="0.3" stop-color="#904141"/><stop offset="0.65" stop-color="#823b3b"/><stop offset="1" stop-color="#6c3131"/></linearGradient><linearGradient id="g4590" gradientUnits="userSpaceOnUse" x1="300.0" y1="86.6" x2="289.8" y2="221.4"><stop offset="0" stop-color="#c45959"/><stop offset="0.3" stop-color="#b45252"/><stop offset="0.65" stop-color="#a24949"/><stop offset="1" stop-color="#873d3d"/></linearGradient><linearGradient id="g45149" gradientUnits="userSpaceOnUse" x1="288.2" y1="88.6" x2="279.4" y2="223.9"><stop offset="0" stop-color="#cb5c5c"/><stop offset="0.3" stop-color="#ba5454"/><stop offset="0.65" stop-color="#a84c4c"/><stop offset="1" stop-color="#8c3f3f"/></linearGradient><linearGradient id="g6690" gradientUnits="userSpaceOnUse" x1="411.3" y1="86.6" x2="388.4" y2="221.9"><stop offset="0" stop-color="#e26666"/><stop offset="0.3" stop-color="#e26666"/><stop offset="0.65" stop-color="#e26666"/><stop offset="1" stop-color="#d96262"/></linearGradient><linearGradient id="g66149" gradientUnits="userSpaceOnUse" x1="400.2" y1="88.6" x2="378.4" y2="224.4"><stop offset="0" stop-color="#d66161"/><stop offset="0.3" stop-color="#cc5d5d"/><stop offset="0.65" stop-color="#c15757"/><stop offset="1" stop-color="#ac4e4e"/></linearGradient><linearGradient id="g66210" gradientUnits="userSpaceOnUse" x1="388.8" y1="86.1" x2="368.4" y2="221.2"><stop offset="0" stop-color="#a74c4c"/><stop offset="0.3" stop-color="#9a4646"/><stop offset="0.65" stop-color="#8a3f3f"/><stop offset="1" stop-color="#733434"/></linearGradient><linearGradient id="g1429" gradientUnits="userSpaceOnUse" x1="144.5" y1="89.8" x2="152.2" y2="224.8"><stop offset="0" stop-color="#9d4747"/><stop offset="0.3" stop-color="#914141"/><stop offset="0.65" stop-color="#823b3b"/><stop offset="1" stop-color="#6c3131"/></linearGradient><linearGradient id="g1490" gradientUnits="userSpaceOnUse" x1="141.2" y1="94.4" x2="149.3" y2="230.6"><stop offset="0" stop-color="#c55959"/><stop offset="0.3" stop-color="#b55252"/><stop offset="0.65" stop-color="#a34a4a"/><stop offset="1" stop-color="#873d3d"/></linearGradient><linearGradient id="g14149" gradientUnits="userSpaceOnUse" x1="128.3" y1="96.5" x2="138.0" y2="233.2"><stop offset="0" stop-color="#cb5c5c"/><stop offset="0.3" stop-color="#bb5454"/><stop offset="0.65" stop-color="#a84c4c"/><stop offset="1" stop-color="#8c3f3f"/></linearGradient><linearGradient id="g3529" gradientUnits="userSpaceOnUse" x1="255.8" y1="89.8" x2="250.7" y2="225.3"><stop offset="0" stop-color="#9d4747"/><stop offset="0.3" stop-color="#914141"/><stop offset="0.65" stop-color="#823b3b"/><stop offset="1" stop-color="#6d3131"/></linearGradient><linearGradient id="g3590" gradientUnits="userSpaceOnUse" x1="254.1" y1="94.4" x2="249.1" y2="231.1"><stop offset="0" stop-color="#c55959"/><stop offset="0.3" stop-color="#b55252"/><stop offset="0.65" stop-color="#a34a4a"/><stop offset="1" stop-color="#883d3d"/></linearGradient><linearGradient id="g35149" gradientUnits="userSpaceOnUse" x1="241.8" y1="96.5" x2="238.2" y2="233.8"><stop offset="0" stop-color="#cb5c5c"/><stop offset="0.3" stop-color="#bb5454"/><stop offset="0.65" stop-color="#a84c4c"/><stop offset="1" stop-color="#8c3f3f"/></linearGradient><linearGradient id="g5690" gradientUnits="userSpaceOnUse" x1="367.9" y1="94.5" x2="349.6" y2="231.7"><stop offset="0" stop-color="#e26666"/><stop offset="0.3" stop-color="#e26666"/><stop offset="0.65" stop-color="#e26666"/><stop offset="1" stop-color="#d96262"/></linearGradient><linearGradient id="g56149" gradientUnits="userSpaceOnUse" x1="356.3" y1="96.6" x2="339.2" y2="234.3"><stop offset="0" stop-color="#d76161"/><stop offset="0.3" stop-color="#cd5d5d"/><stop offset="0.65" stop-color="#c15858"/><stop offset="1" stop-color="#ad4e4e"/></linearGradient><linearGradient id="g56210" gradientUnits="userSpaceOnUse" x1="344.9" y1="94.0" x2="329.3" y2="231.0"><stop offset="0" stop-color="#a84c4c"/><stop offset="0.3" stop-color="#9a4646"/><stop offset="0.65" stop-color="#8b3f3f"/><stop offset="1" stop-color="#743434"/></linearGradient><linearGradient id="g0429" gradientUnits="userSpaceOnUse" x1="94.7" y1="97.8" x2="108.4" y2="234.7"><stop offset="0" stop-color="#9e4747"/><stop offset="0.3" stop-color="#914242"/><stop offset="0.65" stop-color="#833b3b"/><stop offset="1" stop-color="#6d3131"/></linearGradient><linearGradient id="g0490" gradientUnits="userSpaceOnUse" x1="90.6" y1="102.6" x2="104.9" y2="240.7"><stop offset="0" stop-color="#c55959"/><stop offset="0.3" stop-color="#b55252"/><stop offset="0.65" stop-color="#a34a4a"/><stop offset="1" stop-color="#883d3d"/></linearGradient><linearGradient id="g04149" gradientUnits="userSpaceOnUse" x1="77.0" y1="104.8" x2="93.0" y2="243.4"><stop offset="0" stop-color="#ea6a6a"/><stop offset="0.3" stop-color="#ea6a6a"/><stop offset="0.65" stop-color="#ea6a6a"/><stop offset="1" stop-color="#e06666"/></linearGradient><linearGradient id="g2529" gradientUnits="userSpaceOnUse" x1="208.4" y1="97.8" x2="208.8" y2="235.2"><stop offset="0" stop-color="#9e4747"/><stop offset="0.3" stop-color="#914242"/><stop offset="0.65" stop-color="#833b3b"/><stop offset="1" stop-color="#6d3131"/></linearGradient><linearGradient id="g2590" gradientUnits="userSpaceOnUse" x1="206.0" y1="102.7" x2="206.6" y2="241.3"><stop offset="0" stop-color="#c55959"/><stop offset="0.3" stop-color="#b55252"/><stop offset="0.65" stop-color="#a34a4a"/><stop offset="1" stop-color="#883d3d"/></linearGradient><linearGradient id="g25149" gradientUnits="userSpaceOnUse" x1="193.1" y1="104.9" x2="195.2" y2="244.0"><stop offset="0" stop-color="#cb5c5c"/><stop offset="0.3" stop-color="#bb5555"/><stop offset="0.65" stop-color="#a84c4c"/><stop offset="1" stop-color="#8c3f3f"/></linearGradient><linearGradient id="g4629" gradientUnits="userSpaceOnUse" x1="323.1" y1="97.9" x2="309.9" y2="235.8"><stop offset="0" stop-color="#a74c4c"/><stop offset="0.3" stop-color="#9f4848"/><stop offset="0.65" stop-color="#974444"/><stop offset="1" stop-color="#863d3d"/></linearGradient><linearGradient id="g4690" gradientUnits="userSpaceOnUse" x1="322.4" y1="102.7" x2="309.1" y2="241.9"><stop offset="0" stop-color="#e36767"/><stop offset="0.3" stop-color="#e36767"/><stop offset="0.65" stop-color="#e36767"/><stop offset="1" stop-color="#da6363"/></linearGradient><linearGradient id="g46149" gradientUnits="userSpaceOnUse" x1="310.2" y1="105.0" x2="298.3" y2="244.7"><stop offset="0" stop-color="#d76161"/><stop offset="0.3" stop-color="#cd5d5d"/><stop offset="0.65" stop-color="#c25858"/><stop offset="1" stop-color="#ad4e4e"/></linearGradient><linearGradient id="g1529" gradientUnits="userSpaceOnUse" x1="158.7" y1="106.2" x2="165.1" y2="245.6"><stop offset="0" stop-color="#9e4848"/><stop offset="0.3" stop-color="#924242"/><stop offset="0.65" stop-color="#833b3b"/><stop offset="1" stop-color="#6d3131"/></linearGradient><linearGradient id="g1590" gradientUnits="userSpaceOnUse" x1="155.5" y1="111.3" x2="162.2" y2="251.9"><stop offset="0" stop-color="#c65a5a"/><stop offset="0.3" stop-color="#b65252"/><stop offset="0.65" stop-color="#a44a4a"/><stop offset="1" stop-color="#883e3e"/></linearGradient><linearGradient id="g15149" gradientUnits="userSpaceOnUse" x1="141.9" y1="113.6" x2="150.4" y2="254.8"><stop offset="0" stop-color="#cc5c5c"/><stop offset="0.3" stop-color="#bb5555"/><stop offset="0.65" stop-color="#a94c4c"/><stop offset="1" stop-color="#8d4040"/></linearGradient><linearGradient id="g3629" gradientUnits="userSpaceOnUse" x1="276.0" y1="106.3" x2="268.2" y2="246.2"><stop offset="0" stop-color="#a84c4c"/><stop offset="0.3" stop-color="#a04848"/><stop offset="0.65" stop-color="#974444"/><stop offset="1" stop-color="#873d3d"/></linearGradient><linearGradient id="g3690" gradientUnits="userSpaceOnUse" x1="274.5" y1="111.4" x2="266.8" y2="252.6"><stop offset="0" stop-color="#e46767"/><stop offset="0.3" stop-color="#e46767"/><stop offset="0.65" stop-color="#e46767"/><stop offset="1" stop-color="#db6363"/></linearGradient><linearGradient id="g36149" gradientUnits="userSpaceOnUse" x1="261.7" y1="113.8" x2="255.5" y2="255.5"><stop offset="0" stop-color="#d86262"/><stop offset="0.3" stop-color="#ce5d5d"/><stop offset="0.65" stop-color="#c25858"/><stop offset="1" stop-color="#ad4e4e"/></linearGradient><linearGradient id="g0529" gradientUnits="userSpaceOnUse" x1="106.6" y1="115.0" x2="119.4" y2="256.4"><stop offset="0" stop-color="#9f4848"/><stop offset="0.3" stop-color="#924242"/><stop offset="0.65" stop-color="#833b3b"/><stop offset="1" stop-color="#6e3131"/></linearGradient><linearGradient id="g0590" gradientUnits="userSpaceOnUse" x1="102.4" y1="120.4" x2="115.9" y2="263.0"><stop offset="0" stop-color="#c75a5a"/><stop offset="0.3" stop-color="#b75353"/><stop offset="0.65" stop-color="#a44a4a"/><stop offset="1" stop-color="#893e3e"/></linearGradient><linearGradient id="g05149" gradientUnits="userSpaceOnUse" x1="88.1" y1="122.8" x2="103.5" y2="266.0"><stop offset="0" stop-color="#eb6a6a"/><stop offset="0.3" stop-color="#eb6a6a"/><stop offset="0.65" stop-color="#eb6a6a"/><stop offset="1" stop-color="#e16666"/></linearGradient><linearGradient id="g2629" gradientUnits="userSpaceOnUse" x1="226.6" y1="115.2" x2="224.7" y2="257.1"><stop offset="0" stop-color="#a84c4c"/><stop offset="0.3" stop-color="#a04949"/><stop offset="0.65" stop-color="#974444"/><stop offset="1" stop-color="#873d3d"/></linearGradient><linearGradient id="g2690" gradientUnits="userSpaceOnUse" x1="224.3" y1="120.6" x2="222.6" y2="263.8"><stop offset="0" stop-color="#e46767"/><stop offset="0.3" stop-color="#e46767"/><stop offset="0.65" stop-color="#e46767"/><stop offset="1" stop-color="#db6363"/></linearGradient><linearGradient id="g26149" gradientUnits="userSpaceOnUse" x1="210.8" y1="123.0" x2="210.8" y2="266.7"><stop offset="0" stop-color="#d86262"/><stop offset="0.3" stop-color="#ce5d5d"/><stop offset="0.65" stop-color="#c35858"/><stop offset="1" stop-color="#ae4f4f"/></linearGradient><linearGradient id="g1629" gradientUnits="userSpaceOnUse" x1="174.6" y1="124.5" x2="179.2" y2="268.4"><stop offset="0" stop-color="#a94c4c"/><stop offset="0.3" stop-color="#a14949"/><stop offset="0.65" stop-color="#984545"/><stop offset="1" stop-color="#883d3d"/></linearGradient><linearGradient id="g1690" gradientUnits="userSpaceOnUse" x1="171.3" y1="130.2" x2="176.4" y2="275.4"><stop offset="0" stop-color="#e56868"/><stop offset="0.3" stop-color="#e56868"/><stop offset="0.65" stop-color="#e56868"/><stop offset="1" stop-color="#dc6464"/></linearGradient><linearGradient id="g16149" gradientUnits="userSpaceOnUse" x1="157.1" y1="132.7" x2="164.1" y2="278.5"><stop offset="0" stop-color="#d96262"/><stop offset="0.3" stop-color="#cf5d5d"/><stop offset="0.65" stop-color="#c35858"/><stop offset="1" stop-color="#ae4f4f"/></linearGradient></defs><polygon points="14.8,157.8 68.4,304.9 76.7,352.5 22.0,200.0" fill="#8fc0ea" />
<polygon points="22.0,200.0 76.7,352.5 83.0,393.5 27.0,230.0" fill="#7a7a7a" />
<polygon points="68.4,304.9 143.1,285.4 146.5,335.5 76.7,352.5" fill="#98c8f2" />
<polygon points="76.7,352.5 146.5,335.5 150.2,376.2 83.0,393.5" fill="#7b7b7b" />
<polygon points="143.1,285.4 156.7,313.3 160.3,363.3 146.5,335.5" fill="#a2d0f8" />
<polygon points="146.5,335.5 160.3,363.3 161.8,403.3 150.2,376.2" fill="#717171" />
<polygon points="156.7,313.3 446.0,232.3 435.3,280.7 160.3,363.3" fill="#9dcdf8" />
<polygon points="160.3,363.3 435.3,280.7 427.3,319.3 161.8,403.3" fill="url(#gfront)" />
<polygon points="14.8,157.8 284.4,108.7 446.0,232.3 156.7,313.3 143.1,285.4 68.4,304.9" fill="#69c49f" />
<polygon points="156.7,313.3 446.0,232.3 446.3,234.7 157.0,315.7" fill="#7fe0b5" /><path d="M157.0,316.2 L446.3,235.2" stroke="#7d8f95" stroke-width="1"/>
<polygon points="68.4,304.9 143.1,285.4 143.4,287.8 68.7,307.3" fill="#7fe0b5" /><path d="M68.7,307.8 L143.4,288.3" stroke="#7d8f95" stroke-width="1"/><polygon points="288.0,13.1 287.1,15.7 280.2,128.7 281.1,125.2" fill="url(#g6029)" stroke-width="0.5" stroke="url(#g6029)"/>
<polygon points="287.1,15.7 278.0,16.9 271.9,130.3 280.2,128.7" fill="url(#g6090)" stroke-width="0.5" stroke="url(#g6090)"/>
<polygon points="278.0,16.9 270.0,15.4 264.7,128.3 271.9,130.3" fill="url(#g60149)" stroke-width="0.5" stroke="url(#g60149)"/>
<polygon points="288.0,13.1 287.1,15.7 278.0,16.9 270.0,15.4 271.1,12.8 280.0,11.7" fill="#e66868" stroke-width="0.5" stroke="#e66868"/>
<polygon points="253.0,17.7 251.7,20.4 248.0,134.8 249.2,131.2" fill="url(#g5029)" stroke-width="0.5" stroke="url(#g5029)"/>
<polygon points="251.7,20.4 242.3,21.7 239.4,136.5 248.0,134.8" fill="url(#g5090)" stroke-width="0.5" stroke="url(#g5090)"/>
<polygon points="242.3,21.7 234.4,20.2 232.2,134.4 239.4,136.5" fill="url(#g50149)" stroke-width="0.5" stroke="url(#g50149)"/>
<polygon points="253.0,17.7 251.7,20.4 242.3,21.7 234.4,20.2 235.9,17.5 245.2,16.2" fill="#e76969" stroke-width="0.5" stroke="#e76969"/>
<polygon points="216.8,22.5 215.0,25.3 214.7,141.2 216.3,137.4" fill="url(#g4029)" stroke-width="0.5" stroke="url(#g4029)"/>
<polygon points="215.0,25.3 205.3,26.6 205.8,142.9 214.7,141.2" fill="url(#g4090)" stroke-width="0.5" stroke="url(#g4090)"/>
<polygon points="205.3,26.6 197.4,25.0 198.7,140.8 205.8,142.9" fill="url(#g40149)" stroke-width="0.5" stroke="url(#g40149)"/>
<polygon points="216.8,22.5 215.0,25.3 205.3,26.6 197.4,25.0 199.4,22.2 209.0,21.0" fill="#e86969" stroke-width="0.5" stroke="#e86969"/>
<polygon points="304.4,22.3 303.6,25.1 294.9,141.4 295.7,137.6" fill="url(#g6129)" stroke-width="0.5" stroke="url(#g6129)"/>
<polygon points="303.6,25.1 294.2,26.4 286.4,143.1 294.9,141.4" fill="url(#g6190)" stroke-width="0.5" stroke="url(#g6190)"/>
<polygon points="294.2,26.4 285.8,24.8 278.8,140.9 286.4,143.1" fill="url(#g61149)" stroke-width="0.5" stroke="url(#g61149)"/>
<polygon points="304.4,22.3 303.6,25.1 294.2,26.4 285.8,24.8 286.8,22.0 296.0,20.8" fill="#e86969" stroke-width="0.5" stroke="#e86969"/>
<polygon points="179.2,27.5 177.0,30.4 180.2,147.8 182.2,143.9" fill="url(#g3029)" stroke-width="0.5" stroke="url(#g3029)"/>
<polygon points="177.0,30.4 166.8,31.7 171.1,149.5 180.2,147.8" fill="url(#g3090)" stroke-width="0.5" stroke="url(#g3090)"/>
<polygon points="166.8,31.7 159.1,30.1 164.1,147.3 171.1,149.5" fill="url(#g30149)" stroke-width="0.5" stroke="url(#g30149)"/>
<polygon points="179.2,27.5 177.0,30.4 166.8,31.7 159.1,30.1 161.6,27.2 171.5,25.9" fill="#e96969" stroke-width="0.5" stroke="#e96969"/>
<polygon points="268.3,27.3 267.1,30.2 261.8,148.0 262.9,144.1" fill="url(#g5129)" stroke-width="0.5" stroke="url(#g5129)"/>
<polygon points="267.1,30.2 257.3,31.6 252.9,149.7 261.8,148.0" fill="url(#g5190)" stroke-width="0.5" stroke="url(#g5190)"/>
<polygon points="257.3,31.6 249.0,29.9 245.4,147.5 252.9,149.7" fill="url(#g51149)" stroke-width="0.5" stroke="url(#g51149)"/>
<polygon points="268.3,27.3 267.1,30.2 257.3,31.6 249.0,29.9 250.4,27.0 260.0,25.7" fill="#e96969" stroke-width="0.5" stroke="#e96969"/>
<polygon points="140.2,32.6 137.4,35.7 144.6,154.6 147.0,150.6" fill="url(#g2029)" stroke-width="0.5" stroke="url(#g2029)"/>
<polygon points="137.4,35.7 126.9,37.1 135.1,156.4 144.6,154.6" fill="url(#g2090)" stroke-width="0.5" stroke="url(#g2090)"/>
<polygon points="126.9,37.1 119.3,35.4 128.2,154.1 135.1,156.4" fill="url(#g20149)" stroke-width="0.5" stroke="url(#g20149)"/>
<polygon points="140.2,32.6 137.4,35.7 126.9,37.1 119.3,35.4 122.3,32.3 132.6,31.0" fill="#e96a6a" stroke-width="0.5" stroke="#e96a6a"/>
<polygon points="230.8,32.4 229.1,35.5 227.4,154.8 229.0,150.8" fill="url(#g4129)" stroke-width="0.5" stroke="url(#g4129)"/>
<polygon points="229.1,35.5 219.0,36.9 218.3,156.6 227.4,154.8" fill="url(#g4190)" stroke-width="0.5" stroke="url(#g4190)"/>
<polygon points="219.0,36.9 210.8,35.2 210.8,154.3 218.3,156.6" fill="url(#g41149)" stroke-width="0.5" stroke="url(#g41149)"/>
<polygon points="230.8,32.4 229.1,35.5 219.0,36.9 210.8,35.2 212.7,32.2 222.6,30.8" fill="#e96a6a" stroke-width="0.5" stroke="#e96a6a"/>
<polygon points="322.1,32.3 321.5,35.3 310.8,155.0 311.4,151.0" fill="url(#g6229)" stroke-width="0.5" stroke="url(#g6229)"/>
<polygon points="321.5,35.3 311.8,36.7 302.0,156.9 310.8,155.0" fill="url(#g6290)" stroke-width="0.5" stroke="url(#g6290)"/>
<polygon points="311.8,36.7 302.9,35.0 294.0,154.6 302.0,156.9" fill="url(#g62149)" stroke-width="0.5" stroke="url(#g62149)"/>
<polygon points="322.1,32.3 321.5,35.3 311.8,36.7 302.9,35.0 303.7,32.0 313.2,30.6" fill="#ea6a6a" stroke-width="0.5" stroke="#ea6a6a"/>
<polygon points="99.7,38.0 96.4,41.1 107.7,161.6 110.5,157.5" fill="url(#g1029)" stroke-width="0.5" stroke="url(#g1029)"/>
<polygon points="96.4,41.1 85.4,42.6 97.9,163.5 107.7,161.6" fill="url(#g1090)" stroke-width="0.5" stroke="url(#g1090)"/>
<polygon points="85.4,42.6 78.0,40.8 91.1,161.1 97.9,163.5" fill="url(#g10149)" stroke-width="0.5" stroke="url(#g10149)"/>
<polygon points="99.7,38.0 96.4,41.1 85.4,42.6 78.0,40.8 81.5,37.7 92.3,36.3" fill="#ea6a6a" stroke-width="0.5" stroke="#ea6a6a"/>
<polygon points="191.9,37.8 189.7,41.0 191.9,161.9 193.8,157.7" fill="url(#g3129)" stroke-width="0.5" stroke="url(#g3129)"/>
<polygon points="189.7,41.0 179.2,42.5 182.4,163.8 191.9,161.9" fill="url(#g3190)" stroke-width="0.5" stroke="url(#g3190)"/>
<polygon points="179.2,42.5 171.1,40.7 175.1,161.4 182.4,163.8" fill="url(#g31149)" stroke-width="0.5" stroke="url(#g31149)"/>
<polygon points="191.9,37.8 189.7,41.0 179.2,42.5 171.1,40.7 173.5,37.5 183.8,36.1" fill="#ea6a6a" stroke-width="0.5" stroke="#ea6a6a"/>
<polygon points="284.8,37.7 283.8,40.8 276.6,162.1 277.6,157.9" fill="url(#g5229)" stroke-width="0.5" stroke="url(#g5229)"/>
<polygon points="283.8,40.8 273.7,42.3 267.5,164.0 276.6,162.1" fill="url(#g5290)" stroke-width="0.5" stroke="url(#g5290)"/>
<polygon points="273.7,42.3 264.9,40.5 259.6,161.6 267.5,164.0" fill="url(#g52149)" stroke-width="0.5" stroke="url(#g52149)"/>
<polygon points="284.8,37.7 283.8,40.8 273.7,42.3 264.9,40.5 266.2,37.4 276.1,35.9" fill="#ea6a6a" stroke-width="0.5" stroke="#ea6a6a"/>
<polygon points="57.6,43.5 53.7,46.8 69.4,168.9 72.8,164.6" fill="url(#g0029)" stroke-width="0.5" stroke="url(#g0029)"/>
<polygon points="53.7,46.8 42.3,48.4 59.3,170.9 69.4,168.9" fill="url(#g0090)" stroke-width="0.5" stroke="url(#g0090)"/>
<polygon points="42.3,48.4 35.0,46.5 52.6,168.4 59.3,170.9" fill="url(#g00149)" stroke-width="0.5" stroke="url(#g00149)"/>
<polygon points="57.6,43.5 53.7,46.8 42.3,48.4 35.0,46.5 39.1,43.2 50.3,41.8" fill="#eb6a6a" stroke-width="0.5" stroke="#eb6a6a"/>
<polygon points="151.5,43.4 148.7,46.7 155.0,169.2 157.4,164.9" fill="url(#g2129)" stroke-width="0.5" stroke="url(#g2129)"/>
<polygon points="148.7,46.7 137.8,48.2 145.2,171.1 155.0,169.2" fill="url(#g2190)" stroke-width="0.5" stroke="url(#g2190)"/>
<polygon points="137.8,48.2 129.8,46.4 138.0,168.7 145.2,171.1" fill="url(#g21149)" stroke-width="0.5" stroke="url(#g21149)"/>
<polygon points="151.5,43.4 148.7,46.7 137.8,48.2 129.8,46.4 132.8,43.1 143.5,41.6" fill="#eb6a6a" stroke-width="0.5" stroke="#eb6a6a"/>
<polygon points="246.1,43.3 244.5,46.6 241.2,169.5 242.6,165.1" fill="url(#g4229)" stroke-width="0.5" stroke="url(#g4229)"/>
<polygon points="244.5,46.6 234.1,48.1 231.7,171.4 241.2,169.5" fill="url(#g4290)" stroke-width="0.5" stroke="url(#g4290)"/>
<polygon points="234.1,48.1 225.3,46.3 223.9,169.0 231.7,171.4" fill="url(#g42149)" stroke-width="0.5" stroke="url(#g42149)"/>
<polygon points="246.1,43.3 244.5,46.6 234.1,48.1 225.3,46.3 227.1,42.9 237.4,41.5" fill="#eb6a6a" stroke-width="0.5" stroke="#eb6a6a"/>
<polygon points="341.4,43.1 341.0,46.5 327.9,169.8 328.4,165.4" fill="url(#g6329)" stroke-width="0.5" stroke="url(#g6329)"/>
<polygon points="341.0,46.5 331.0,48.0 318.8,171.7 327.9,169.8" fill="url(#g6390)" stroke-width="0.5" stroke="url(#g6390)"/>
<polygon points="331.0,48.0 321.5,46.1 310.4,169.2 318.8,171.7" fill="url(#g63149)" stroke-width="0.5" stroke="url(#g63149)"/>
<polygon points="341.4,43.1 341.0,46.5 331.0,48.0 321.5,46.1 322.2,42.8 332.0,41.3" fill="#eb6a6a" stroke-width="0.5" stroke="#eb6a6a"/>
<polygon points="109.4,49.2 106.1,52.7 116.8,176.8 119.7,172.3" fill="url(#g1129)" stroke-width="0.5" stroke="url(#g1129)"/>
<polygon points="106.1,52.7 94.7,54.3 106.7,178.8 116.8,176.8" fill="url(#g1190)" stroke-width="0.5" stroke="url(#g1190)"/>
<polygon points="94.7,54.3 86.8,52.3 99.6,176.3 106.7,178.8" fill="url(#g11149)" stroke-width="0.5" stroke="url(#g11149)"/>
<polygon points="109.4,49.2 106.1,52.7 94.7,54.3 86.8,52.3 90.4,48.9 101.6,47.4" fill="#ec6b6b" stroke-width="0.5" stroke="#ec6b6b"/>
<polygon points="205.8,49.1 203.7,52.6 204.4,177.1 206.3,172.6" fill="url(#g3229)" stroke-width="0.5" stroke="url(#g3229)"/>
<polygon points="203.7,52.6 192.8,54.2 194.7,179.1 204.4,177.1" fill="url(#g3290)" stroke-width="0.5" stroke="url(#g3290)"/>
<polygon points="192.8,54.2 184.2,52.2 186.9,176.6 194.7,179.1" fill="url(#g32149)" stroke-width="0.5" stroke="url(#g32149)"/>
<polygon points="205.8,49.1 203.7,52.6 192.8,54.2 184.2,52.2 186.5,48.8 197.2,47.2" fill="#ec6b6b" stroke-width="0.5" stroke="#ec6b6b"/>
<polygon points="302.9,49.0 302.0,52.4 292.6,177.4 293.5,172.9" fill="url(#g5329)" stroke-width="0.5" stroke="url(#g5329)"/>
<polygon points="302.0,52.4 291.6,54.0 283.3,179.5 292.6,177.4" fill="url(#g5390)" stroke-width="0.5" stroke="url(#g5390)"/>
<polygon points="291.6,54.0 282.2,52.1 274.9,176.9 283.3,179.5" fill="url(#g53149)" stroke-width="0.5" stroke="url(#g53149)"/>
<polygon points="302.9,49.0 302.0,52.4 291.6,54.0 282.2,52.1 283.3,48.6 293.6,47.1" fill="#ec6b6b" stroke-width="0.5" stroke="#ec6b6b"/>
<polygon points="65.6,55.3 61.6,58.9 77.2,184.7 80.6,180.0" fill="url(#g0129)" stroke-width="0.5" stroke="url(#g0129)"/>
<polygon points="61.6,58.9 49.8,60.5 66.7,186.8 77.2,184.7" fill="url(#g0190)" stroke-width="0.5" stroke="url(#g0190)"/>
<polygon points="49.8,60.5 42.1,58.5 59.7,184.1 66.7,186.8" fill="url(#g01149)" stroke-width="0.5" stroke="url(#g01149)"/>
<polygon points="65.6,55.3 61.6,58.9 49.8,60.5 42.1,58.5 46.3,54.9 57.9,53.3" fill="#ec6b6b" stroke-width="0.5" stroke="#ec6b6b"/>
<polygon points="163.8,55.2 161.1,58.8 166.3,185.0 168.7,180.3" fill="url(#g2229)" stroke-width="0.5" stroke="url(#g2229)"/>
<polygon points="161.1,58.8 149.7,60.4 156.2,187.1 166.3,185.0" fill="url(#g2290)" stroke-width="0.5" stroke="url(#g2290)"/>
<polygon points="149.7,60.4 141.3,58.4 148.6,184.5 156.2,187.1" fill="url(#g22149)" stroke-width="0.5" stroke="url(#g22149)"/>
<polygon points="163.8,55.2 161.1,58.8 149.7,60.4 141.3,58.4 144.2,54.8 155.4,53.2" fill="#ed6b6b" stroke-width="0.5" stroke="#ed6b6b"/>
<polygon points="262.7,55.1 261.3,58.7 256.1,185.4 257.4,180.6" fill="url(#g4329)" stroke-width="0.5" stroke="url(#g4329)"/>
<polygon points="261.3,58.7 250.4,60.4 246.3,187.5 256.1,185.4" fill="url(#g4390)" stroke-width="0.5" stroke="url(#g4390)"/>
<polygon points="250.4,60.4 241.2,58.3 238.1,184.8 246.3,187.5" fill="url(#g43149)" stroke-width="0.5" stroke="url(#g43149)"/>
<polygon points="262.7,55.1 261.3,58.7 250.4,60.4 241.2,58.3 242.9,54.7 253.6,53.1" fill="#ed6b6b" stroke-width="0.5" stroke="#ed6b6b"/>
<polygon points="362.3,58.6 351.9,60.3 337.1,187.8 346.4,185.7" fill="url(#g6490)" stroke-width="0.5" stroke="url(#g6490)"/>
<polygon points="351.9,60.3 341.9,58.2 328.2,185.1 337.1,187.8" fill="url(#g64149)" stroke-width="0.5" stroke="url(#g64149)"/>
<polygon points="341.9,58.2 342.3,54.6 328.7,180.4 328.2,185.1" fill="url(#g64210)" stroke-width="0.5" stroke="url(#g64210)"/>
<polygon points="362.4,55.0 362.3,58.6 351.9,60.3 341.9,58.2 342.3,54.6 352.5,53.0" fill="#ed6b6b" stroke-width="0.5" stroke="#ed6b6b"/>
<polygon points="120.0,61.5 116.7,65.3 126.8,193.2 129.6,188.3" fill="url(#g1229)" stroke-width="0.5" stroke="url(#g1229)"/>
<polygon points="116.7,65.3 104.8,67.0 116.2,195.4 126.8,193.2" fill="url(#g1290)" stroke-width="0.5" stroke="url(#g1290)"/>
<polygon points="104.8,67.0 96.5,64.9 108.7,192.6 116.2,195.4" fill="url(#g12149)" stroke-width="0.5" stroke="url(#g12149)"/>
<polygon points="120.0,61.5 116.7,65.3 104.8,67.0 96.5,64.9 100.2,61.1 111.8,59.5" fill="#ed6b6b" stroke-width="0.5" stroke="#ed6b6b"/>
<polygon points="220.9,61.4 218.9,65.2 218.1,193.6 219.9,188.7" fill="url(#g3329)" stroke-width="0.5" stroke="url(#g3329)"/>
<polygon points="218.9,65.2 207.6,66.9 208.0,195.8 218.1,193.6" fill="url(#g3390)" stroke-width="0.5" stroke="url(#g3390)"/>
<polygon points="207.6,66.9 198.4,64.8 199.8,193.0 208.0,195.8" fill="url(#g33149)" stroke-width="0.5" stroke="url(#g33149)"/>
<polygon points="220.9,61.4 218.9,65.2 207.6,66.9 198.4,64.8 200.7,61.0 211.9,59.4" fill="#ee6c6c" stroke-width="0.5" stroke="#ee6c6c"/>
<polygon points="322.5,61.3 321.9,65.1 310.0,194.0 310.7,189.1" fill="url(#g5429)" stroke-width="0.5" stroke="url(#g5429)"/>
<polygon points="321.9,65.1 311.1,66.9 300.3,196.2 310.0,194.0" fill="url(#g5490)" stroke-width="0.5" stroke="url(#g5490)"/>
<polygon points="311.1,66.9 301.1,64.8 291.5,193.4 300.3,196.2" fill="url(#g54149)" stroke-width="0.5" stroke="url(#g54149)"/>
<polygon points="322.5,61.3 321.9,65.1 311.1,66.9 301.1,64.8 302.1,61.0 312.7,59.3" fill="#ee6c6c" stroke-width="0.5" stroke="#ee6c6c"/>
<polygon points="74.4,68.1 70.4,72.1 85.7,201.8 89.1,196.7" fill="url(#g0229)" stroke-width="0.5" stroke="url(#g0229)"/>
<polygon points="70.4,72.1 58.0,73.9 74.7,204.0 85.7,201.8" fill="url(#g0290)" stroke-width="0.5" stroke="url(#g0290)"/>
<polygon points="58.0,73.9 49.9,71.6 67.4,201.1 74.7,204.0" fill="url(#g02149)" stroke-width="0.5" stroke="url(#g02149)"/>
<polygon points="74.4,68.1 70.4,72.1 58.0,73.9 49.9,71.6 54.2,67.7 66.3,66.0" fill="#ee6c6c" stroke-width="0.5" stroke="#ee6c6c"/>
<polygon points="177.3,68.0 174.6,72.0 178.6,202.2 180.9,197.1" fill="url(#g2329)" stroke-width="0.5" stroke="url(#g2329)"/>
<polygon points="174.6,72.0 162.8,73.8 168.1,204.5 178.6,202.2" fill="url(#g2390)" stroke-width="0.5" stroke="url(#g2390)"/>
<polygon points="162.8,73.8 153.8,71.6 160.1,201.6 168.1,204.5" fill="url(#g23149)" stroke-width="0.5" stroke="url(#g23149)"/>
<polygon points="177.3,68.0 174.6,72.0 162.8,73.8 153.8,71.6 156.7,67.6 168.4,65.9" fill="#ee6c6c" stroke-width="0.5" stroke="#ee6c6c"/>
<polygon points="280.9,68.0 279.7,72.0 272.2,202.6 273.4,197.5" fill="url(#g4429)" stroke-width="0.5" stroke="url(#g4429)"/>
<polygon points="279.7,72.0 268.4,73.8 262.1,204.9 272.2,202.6" fill="url(#g4490)" stroke-width="0.5" stroke="url(#g4490)"/>
<polygon points="268.4,73.8 258.6,71.6 253.4,202.0 262.1,204.9" fill="url(#g44149)" stroke-width="0.5" stroke="url(#g44149)"/>
<polygon points="280.9,68.0 279.7,72.0 268.4,73.8 258.6,71.6 260.1,67.6 271.2,65.8" fill="#ee6c6c" stroke-width="0.5" stroke="#ee6c6c"/>
<polygon points="385.6,71.9 374.9,73.8 356.9,205.3 366.5,203.0" fill="url(#g6590)" stroke-width="0.5" stroke="url(#g6590)"/>
<polygon points="374.9,73.8 364.2,71.5 347.4,202.4 356.9,205.3" fill="url(#g65149)" stroke-width="0.5" stroke="url(#g65149)"/>
<polygon points="364.2,71.5 364.3,67.5 347.7,197.3 347.4,202.4" fill="url(#g65210)" stroke-width="0.5" stroke="url(#g65210)"/>
<polygon points="385.4,67.9 385.6,71.9 374.9,73.8 364.2,71.5 364.3,67.5 374.8,65.8" fill="#ef6c6c" stroke-width="0.5" stroke="#ef6c6c"/>
<polygon points="131.7,75.0 128.3,79.1 137.6,211.1 140.4,205.8" fill="url(#g1329)" stroke-width="0.5" stroke="url(#g1329)"/>
<polygon points="128.3,79.1 116.0,81.0 126.6,213.5 137.6,211.1" fill="url(#g1390)" stroke-width="0.5" stroke="url(#g1390)"/>
<polygon points="116.0,81.0 107.2,78.7 118.7,210.4 126.6,213.5" fill="url(#g13149)" stroke-width="0.5" stroke="url(#g13149)"/>
<polygon points="131.7,75.0 128.3,79.1 116.0,81.0 107.2,78.7 110.8,74.5 123.0,72.7" fill="#ef6c6c" stroke-width="0.5" stroke="#ef6c6c"/>
<polygon points="237.5,74.9 235.6,79.1 232.9,211.6 234.6,206.2" fill="url(#g3429)" stroke-width="0.5" stroke="url(#g3429)"/>
<polygon points="235.6,79.1 223.8,81.0 222.4,213.9 232.9,211.6" fill="url(#g3490)" stroke-width="0.5" stroke="url(#g3490)"/>
<polygon points="223.8,81.0 214.1,78.7 213.8,210.9 222.4,213.9" fill="url(#g34149)" stroke-width="0.5" stroke="url(#g34149)"/>
<polygon points="237.5,74.9 235.6,79.1 223.8,81.0 214.1,78.7 216.3,74.5 227.9,72.7" fill="#ef6c6c" stroke-width="0.5" stroke="#ef6c6c"/>
<polygon points="343.8,79.1 332.6,81.0 318.9,214.4 328.9,212.0" fill="url(#g5590)" stroke-width="0.5" stroke="url(#g5590)"/>
<polygon points="332.6,81.0 321.9,78.6 309.6,211.4 318.9,214.4" fill="url(#g55149)" stroke-width="0.5" stroke="url(#g55149)"/>
<polygon points="344.2,74.9 343.8,79.1 332.6,81.0 321.9,78.6 322.6,74.5 333.6,72.6" fill="#ef6c6c" stroke-width="0.5" stroke="#ef6c6c"/>
<polygon points="84.1,82.2 80.0,86.5 94.9,220.4 98.3,214.8" fill="url(#g0329)" stroke-width="0.5" stroke="url(#g0329)"/>
<polygon points="80.0,86.5 67.0,88.5 83.5,222.8 94.9,220.4" fill="url(#g0390)" stroke-width="0.5" stroke="url(#g0390)"/>
<polygon points="67.0,88.5 58.4,86.1 75.7,219.7 83.5,222.8" fill="url(#g03149)" stroke-width="0.5" stroke="url(#g03149)"/>
<polygon points="84.1,82.2 80.0,86.5 67.0,88.5 58.4,86.1 62.8,81.7 75.5,79.8" fill="#f06d6d" stroke-width="0.5" stroke="#f06d6d"/>
<polygon points="192.1,82.2 189.5,86.6 192.0,220.9 194.2,215.3" fill="url(#g2429)" stroke-width="0.5" stroke="url(#g2429)"/>
<polygon points="189.5,86.6 177.2,88.6 181.1,223.4 192.0,220.9" fill="url(#g2490)" stroke-width="0.5" stroke="url(#g2490)"/>
<polygon points="177.2,88.6 167.6,86.1 172.6,220.2 181.1,223.4" fill="url(#g24149)" stroke-width="0.5" stroke="url(#g24149)"/>
<polygon points="192.1,82.2 189.5,86.6 177.2,88.6 167.6,86.1 170.5,81.7 182.6,79.8" fill="#f06d6d" stroke-width="0.5" stroke="#f06d6d"/>
<polygon points="301.0,82.2 300.0,86.6 289.8,221.4 290.9,215.8" fill="url(#g4529)" stroke-width="0.5" stroke="url(#g4529)"/>
<polygon points="300.0,86.6 288.2,88.6 279.4,223.9 289.8,221.4" fill="url(#g4590)" stroke-width="0.5" stroke="url(#g4590)"/>
<polygon points="288.2,88.6 277.7,86.1 270.2,220.7 279.4,223.9" fill="url(#g45149)" stroke-width="0.5" stroke="url(#g45149)"/>
<polygon points="301.0,82.2 300.0,86.6 288.2,88.6 277.7,86.1 279.1,81.7 290.6,79.8" fill="#f06d6d" stroke-width="0.5" stroke="#f06d6d"/>
<polygon points="411.3,86.6 400.2,88.6 378.4,224.4 388.4,221.9" fill="url(#g6690)" stroke-width="0.5" stroke="url(#g6690)"/>
<polygon points="400.2,88.6 388.8,86.1 368.4,221.2 378.4,224.4" fill="url(#g66149)" stroke-width="0.5" stroke="url(#g66149)"/>
<polygon points="388.8,86.1 388.5,81.7 368.5,215.6 368.4,221.2" fill="url(#g66210)" stroke-width="0.5" stroke="url(#g66210)"/>
<polygon points="410.8,82.2 411.3,86.6 400.2,88.6 388.8,86.1 388.5,81.7 399.4,79.8" fill="#f06d6d" stroke-width="0.5" stroke="#f06d6d"/>
<polygon points="144.5,89.8 141.2,94.4 149.3,230.6 152.2,224.8" fill="url(#g1429)" stroke-width="0.5" stroke="url(#g1429)"/>
<polygon points="141.2,94.4 128.3,96.5 138.0,233.2 149.3,230.6" fill="url(#g1490)" stroke-width="0.5" stroke="url(#g1490)"/>
<polygon points="128.3,96.5 118.9,93.9 129.6,229.9 138.0,233.2" fill="url(#g14149)" stroke-width="0.5" stroke="url(#g14149)"/>
<polygon points="144.5,89.8 141.2,94.4 128.3,96.5 118.9,93.9 122.6,89.3 135.3,87.3" fill="#f16d6d" stroke-width="0.5" stroke="#f16d6d"/>
<polygon points="255.8,89.8 254.1,94.4 249.1,231.1 250.7,225.3" fill="url(#g3529)" stroke-width="0.5" stroke="url(#g3529)"/>
<polygon points="254.1,94.4 241.8,96.5 238.2,233.8 249.1,231.1" fill="url(#g3590)" stroke-width="0.5" stroke="url(#g3590)"/>
<polygon points="241.8,96.5 231.4,93.9 229.1,230.4 238.2,233.8" fill="url(#g35149)" stroke-width="0.5" stroke="url(#g35149)"/>
<polygon points="255.8,89.8 254.1,94.4 241.8,96.5 231.4,93.9 233.5,89.3 245.5,87.3" fill="#f16d6d" stroke-width="0.5" stroke="#f16d6d"/>
<polygon points="367.9,94.5 356.3,96.6 339.2,234.3 349.6,231.7" fill="url(#g5690)" stroke-width="0.5" stroke="url(#g5690)"/>
<polygon points="356.3,96.6 344.9,94.0 329.3,231.0 339.2,234.3" fill="url(#g56149)" stroke-width="0.5" stroke="url(#g56149)"/>
<polygon points="344.9,94.0 345.3,89.4 329.8,225.1 329.3,231.0" fill="url(#g56210)" stroke-width="0.5" stroke="url(#g56210)"/>
<polygon points="368.0,89.8 367.9,94.5 356.3,96.6 344.9,94.0 345.3,89.4 356.7,87.4" fill="#f16d6d" stroke-width="0.5" stroke="#f16d6d"/>
<polygon points="94.7,97.8 90.6,102.6 104.9,240.7 108.4,234.7" fill="url(#g0429)" stroke-width="0.5" stroke="url(#g0429)"/>
<polygon points="90.6,102.6 77.0,104.8 93.0,243.4 104.9,240.7" fill="url(#g0490)" stroke-width="0.5" stroke="url(#g0490)"/>
<polygon points="77.0,104.8 67.9,102.0 84.9,240.0 93.0,243.4" fill="url(#g04149)" stroke-width="0.5" stroke="url(#g04149)"/>
<polygon points="94.7,97.8 90.6,102.6 77.0,104.8 67.9,102.0 72.4,97.2 85.7,95.2" fill="#f16d6d" stroke-width="0.5" stroke="#f16d6d"/>
<polygon points="208.4,97.8 206.0,102.7 206.6,241.3 208.8,235.2" fill="url(#g2529)" stroke-width="0.5" stroke="url(#g2529)"/>
<polygon points="206.0,102.7 193.1,104.9 195.2,244.0 206.6,241.3" fill="url(#g2590)" stroke-width="0.5" stroke="url(#g2590)"/>
<polygon points="193.1,104.9 182.9,102.1 186.3,240.6 195.2,244.0" fill="url(#g25149)" stroke-width="0.5" stroke="url(#g25149)"/>
<polygon points="208.4,97.8 206.0,102.7 193.1,104.9 182.9,102.1 185.7,97.3 198.3,95.2" fill="#f26d6d" stroke-width="0.5" stroke="#f26d6d"/>
<polygon points="323.1,97.9 322.4,102.7 309.1,241.9 309.9,235.8" fill="url(#g4629)" stroke-width="0.5" stroke="url(#g4629)"/>
<polygon points="322.4,102.7 310.2,105.0 298.3,244.7 309.1,241.9" fill="url(#g4690)" stroke-width="0.5" stroke="url(#g4690)"/>
<polygon points="310.2,105.0 298.9,102.2 288.4,241.2 298.3,244.7" fill="url(#g46149)" stroke-width="0.5" stroke="url(#g46149)"/>
<polygon points="323.1,97.9 322.4,102.7 310.2,105.0 298.9,102.2 300.0,97.4 312.0,95.3" fill="#f26d6d" stroke-width="0.5" stroke="#f26d6d"/>
<polygon points="158.7,106.2 155.5,111.3 162.2,251.9 165.1,245.6" fill="url(#g1529)" stroke-width="0.5" stroke="url(#g1529)"/>
<polygon points="155.5,111.3 141.9,113.6 150.4,254.8 162.2,251.9" fill="url(#g1590)" stroke-width="0.5" stroke="url(#g1590)"/>
<polygon points="141.9,113.6 131.9,110.7 141.6,251.1 150.4,254.8" fill="url(#g15149)" stroke-width="0.5" stroke="url(#g15149)"/>
<polygon points="158.7,106.2 155.5,111.3 141.9,113.6 131.9,110.7 135.6,105.7 148.8,103.5" fill="#f26e6e" stroke-width="0.5" stroke="#f26e6e"/>
<polygon points="276.0,106.3 274.5,111.4 266.8,252.6 268.2,246.2" fill="url(#g3629)" stroke-width="0.5" stroke="url(#g3629)"/>
<polygon points="274.5,111.4 261.7,113.8 255.5,255.5 266.8,252.6" fill="url(#g3690)" stroke-width="0.5" stroke="url(#g3690)"/>
<polygon points="261.7,113.8 250.6,110.9 245.8,251.8 255.5,255.5" fill="url(#g36149)" stroke-width="0.5" stroke="url(#g36149)"/>
<polygon points="276.0,106.3 274.5,111.4 261.7,113.8 250.6,110.9 252.5,105.8 265.0,103.5" fill="#f26e6e" stroke-width="0.5" stroke="#f26e6e"/>
<polygon points="106.6,115.0 102.4,120.4 115.9,263.0 119.4,256.4" fill="url(#g0529)" stroke-width="0.5" stroke="url(#g0529)"/>
<polygon points="102.4,120.4 88.1,122.8 103.5,266.0 115.9,263.0" fill="url(#g0590)" stroke-width="0.5" stroke="url(#g0590)"/>
<polygon points="88.1,122.8 78.4,119.8 94.9,262.2 103.5,266.0" fill="url(#g05149)" stroke-width="0.5" stroke="url(#g05149)"/>
<polygon points="106.6,115.0 102.4,120.4 88.1,122.8 78.4,119.8 83.0,114.4 96.9,112.1" fill="#f36e6e" stroke-width="0.5" stroke="#f36e6e"/>
<polygon points="226.6,115.2 224.3,120.6 222.6,263.8 224.7,257.1" fill="url(#g2629)" stroke-width="0.5" stroke="url(#g2629)"/>
<polygon points="224.3,120.6 210.8,123.0 210.8,266.7 222.6,263.8" fill="url(#g2690)" stroke-width="0.5" stroke="url(#g2690)"/>
<polygon points="210.8,123.0 199.9,119.9 201.3,262.9 210.8,266.7" fill="url(#g26149)" stroke-width="0.5" stroke="url(#g26149)"/>
<polygon points="226.6,115.2 224.3,120.6 210.8,123.0 199.9,119.9 202.6,114.6 215.8,112.3" fill="#f36e6e" stroke-width="0.5" stroke="#f36e6e"/>
<polygon points="174.6,124.5 171.3,130.2 176.4,275.4 179.2,268.4" fill="url(#g1629)" stroke-width="0.5" stroke="url(#g1629)"/>
<polygon points="171.3,130.2 157.1,132.7 164.1,278.5 176.4,275.4" fill="url(#g1690)" stroke-width="0.5" stroke="url(#g1690)"/>
<polygon points="157.1,132.7 146.4,129.5 154.7,274.5 164.1,278.5" fill="url(#g16149)" stroke-width="0.5" stroke="url(#g16149)"/>
<polygon points="174.6,124.5 171.3,130.2 157.1,132.7 146.4,129.5 150.1,123.9 164.0,121.4" fill="#f46e6e" stroke-width="0.5" stroke="#f46e6e"/>
<polygon points="95.0,141.6 95.9,137.8 110.5,135.2 117.1,140.6" fill="#f26e6e" />
<polygon points="95.0,141.6 117.1,140.6 131.2,287.6 108.6,289.7" fill="#ff8c8c" />
<polygon points="99.8,145.8 113.1,145.2 126.7,288.0 113.1,289.3" fill="#c93636" />
<rect x="459" y="3" width="195.5" height="408" fill="#a8a8a8"/>
<rect x="479.9" y="190.5" width="154" height="205" fill="#9ccbf5"/>
<rect x="479.9" y="395.4" width="154" height="14" fill="#767676"/>
<rect x="479.9" y="183.8" width="154" height="7" fill="#7c7c7c"/>
<rect x="479.9" y="175.9" width="68.7" height="8" fill="#74e6bc"/>
<rect x="561.6" y="175.9" width="72.3" height="8" fill="#74e6bc"/>
<defs><linearGradient id="pshade" x1="0" y1="0" x2="0" y2="1"><stop offset="0.85" stop-color="#000" stop-opacity="0"/><stop offset="1" stop-color="#000" stop-opacity="0.12"/></linearGradient></defs>
<rect x="515" y="4.5" width="81.2" height="171.5" fill="#e66a6a"/>
<rect x="523.6" y="4.5" width="10.6" height="171.5" fill="#ff8e8e"/>
<rect x="575.8" y="4.5" width="10.6" height="171.5" fill="#ff8e8e"/>
<rect x="534.2" y="4.5" width="41.6" height="171.5" fill="#c93535"/>
<rect x="548.6" y="175" width="13" height="8.4" fill="#c93535"/>
<rect x="515" y="4.5" width="81.2" height="171.5" fill="url(#pshade)"/>
<rect x="459.8" y="3.3" width="194.5" height="407" fill="none" stroke="#000" stroke-width="2.4" stroke-dasharray="6.6 2.6"/>
<text x="555.5" y="29.5" font-size="24.5">InGaAs</text>
<path d="M579.6,35.9 L566.4,53.8" stroke="#000" stroke-width="2.2"/><path d="M561.1,61.1 L563.0,50.1 L571.0,56.0 Z" fill="#000"/>
<text x="464.5" y="121.5" font-size="24.5">InGaP</text>
<path d="M507.0,107.8 L519.0,91.7" stroke="#000" stroke-width="2.2"/><path d="M524.4,84.5 L522.4,95.5 L514.4,89.5 Z" fill="#000"/>
<text x="597" y="153.5" font-size="24.5">Si<tspan font-size="16" dy="6">3</tspan><tspan dy="-6">N</tspan><tspan font-size="16" dy="6">4</tspan></text>
<path d="M623.3,159.5 L623.3,167.0" stroke="#000" stroke-width="2.2"/><path d="M623.3,176.0 L618.3,166.0 L628.3,166.0 Z" fill="#000"/>
<text x="482.5" y="194.5" font-size="24" font-style="italic">t</text>
<path d="M500.6,166.0 L500.6,183.4 M506.6,173.0 L500.6,183.4 L494.6,173.0" fill="none" stroke="#000" stroke-width="2" stroke-linecap="round" stroke-linejoin="miter"/>
<path d="M500.6,209.2 L500.6,192.3 M494.6,202.7 L500.6,192.3 L506.6,202.7" fill="none" stroke="#000" stroke-width="2" stroke-linecap="round" stroke-linejoin="miter"/>
<text x="592" y="221.5" font-size="24.5">SOI</text>
<path d="M604.3,202.0 L604.3,197.3" stroke="#000" stroke-width="2.2"/><path d="M604.3,188.3 L609.3,198.3 L599.3,198.3 Z" fill="#000"/>
<text x="485.5" y="388.5" font-size="24.5">BOX</text>
<text x="600" y="381.5" font-size="24.5">Si</text>
<path d="M611.2,383.5 L611.2,391.5" stroke="#000" stroke-width="2.2"/><path d="M611.2,400.5 L606.2,390.5 L616.2,390.5 Z" fill="#000"/>
<text x="3.5" y="21" font-size="23">(a)</text>
<path d="M348,64.3 L342.4,121.8 M390.4,54.2 L384.8,111.1" stroke="#000" stroke-width="2"/>
<path d="M366.0,86.0 L346.8,89.2 M357.4,92.3 L346.8,89.2 L355.8,82.9" fill="none" stroke="#000" stroke-width="1.8" stroke-linecap="round" stroke-linejoin="miter"/>
<path d="M366.0,86.0 L386.1,82.7 M375.6,79.6 L386.1,82.7 L377.1,89.0" fill="none" stroke="#000" stroke-width="1.8" stroke-linecap="round" stroke-linejoin="miter"/>
<text x="359" y="76" font-size="25" font-style="italic">p</text>
<text x="255" y="135.5" font-size="24" font-style="italic">d</text>
<path d="M225.3,136.7 L249.3,132.3 M238.7,129.4 L249.3,132.3 L240.4,138.8" fill="none" stroke="#000" stroke-width="1.8" stroke-linecap="round" stroke-linejoin="miter"/>
<path d="M300.0,122.3 L276.7,127.0 M287.4,129.7 L276.7,127.0 L285.5,120.4" fill="none" stroke="#000" stroke-width="1.8" stroke-linecap="round" stroke-linejoin="miter"/>
<path d="M91.3,234.4 L140.7,219.6 L148.5,344.4 L101.1,359.4 Z" fill="none" stroke="#000" stroke-width="2.4" stroke-dasharray="6 3.2"/>
<path d="M162.3,405.5 L161.9,384.0" stroke="#000" stroke-width="2.4"/><path d="M161.7,375.0 L167.1,384.9 L156.7,385.1 Z" fill="#000"/>
<path d="M162.3,405.5 L178.9,400.2" stroke="#000" stroke-width="2.4"/><path d="M187.5,397.5 L179.5,405.5 L176.4,395.6 Z" fill="#000"/>
<path d="M162.3,405.5 L156.9,392.4" stroke="#000" stroke-width="2.4"/><path d="M153.8,385.0 L161.9,391.4 L152.6,395.2 Z" fill="#000"/>
<text x="165.5" y="377.5" font-size="23" font-style="italic">z</text>
<text x="133" y="398.5" font-size="23" font-style="italic">y</text>
<text x="189.5" y="407.5" font-size="23" font-style="italic">x</text>
<polygon points="79.5,460.8 152.2,460.8 79.5,814.8" fill="#b0b0b0"/>
<polygon points="325.6,460.8 379,460.8 379,814.8" fill="#b0b0b0"/>
<path d="M152.2,460.8 L79.5,814.8 M325.6,460.8 L379,814.8" stroke="#d0d0d0" stroke-width="1"/>
<path d="M172.2,460.8 L172.2,814.8 M275.6,460.8 L275.6,814.8" stroke="#333" stroke-width="1.1"/>
<path d="M79.50,814.80 C84.63,798.43 108.60,722.24 118.00,692.00 C127.40,661.76 144.69,604.80 150.00,588.00 C155.31,571.20 156.17,569.93 157.80,566.00 C159.43,562.07 160.72,560.07 162.20,558.50 C163.68,556.93 167.19,554.93 168.90,554.20 C170.61,553.47 172.63,553.29 175.00,553.00 C177.37,552.71 182.78,552.69 186.70,552.00 C190.62,551.31 199.67,549.37 204.40,547.80 C209.13,546.23 217.45,542.57 222.20,540.20 C226.95,537.83 235.55,532.59 240.00,530.00 C244.45,527.41 252.04,522.53 255.60,520.80 C259.16,519.07 264.03,517.67 266.70,517.00 C269.37,516.33 272.93,515.76 275.60,515.80 C278.27,515.84 284.34,516.54 286.70,517.30 C289.06,518.06 291.23,519.54 293.30,521.50 C295.37,523.46 299.83,528.49 302.20,532.00 C304.57,535.51 308.73,542.73 311.10,547.80 C313.47,552.87 317.63,563.48 320.00,570.00 C322.37,576.52 325.94,587.22 328.90,596.70 C331.86,606.18 338.64,628.07 342.20,641.10 C345.76,654.13 352.04,679.59 355.60,694.40 C359.16,709.21 365.78,736.15 368.90,752.20 C372.02,768.25 377.65,806.45 379.00,814.80" fill="none" stroke="#222" stroke-width="1.1"/>
<ellipse cx="276.7" cy="514" rx="23.5" ry="10.6" fill="none" stroke="#000" stroke-width="2"/>
<polygon points="224.4,756.7 257.8,722 257.8,756.7" fill="#b8b8b8"/>
<rect x="190.2" y="722" width="67.6" height="68.9" fill="none" stroke="#000" stroke-width="1.5"/>
<path d="M224.4,722 L224.4,790.9 M190.2,756.7 L257.8,756.7" stroke="#000" stroke-width="1.2"/>
<text x="246.5" y="718" font-size="21" text-anchor="middle">M</text>
<text x="213.5" y="780" font-size="21" text-anchor="middle">Γ</text>
<text x="246.5" y="780" font-size="21" text-anchor="middle">X</text>
<rect x="79.5" y="460.8" width="299.5" height="353.99999999999994" fill="none" stroke="#000" stroke-width="1.8"/>
<text x="69.5" y="822.1" font-size="21" text-anchor="end">0.0</text>
<path d="M79.5,770.5 L82.7,770.5" stroke="#000" stroke-width="1.6"/>
<path d="M79.5,726.3 L85.5,726.3" stroke="#000" stroke-width="1.6"/>
<text x="69.5" y="733.6" font-size="21" text-anchor="end">0.1</text>
<path d="M79.5,682.0 L82.7,682.0" stroke="#000" stroke-width="1.6"/>
<path d="M79.5,637.8 L85.5,637.8" stroke="#000" stroke-width="1.6"/>
<text x="69.5" y="645.1" font-size="21" text-anchor="end">0.2</text>
<path d="M79.5,593.5 L82.7,593.5" stroke="#000" stroke-width="1.6"/>
<path d="M79.5,549.3 L85.5,549.3" stroke="#000" stroke-width="1.6"/>
<text x="69.5" y="556.6" font-size="21" text-anchor="end">0.3</text>
<path d="M79.5,505.1 L82.7,505.1" stroke="#000" stroke-width="1.6"/>
<text x="69.5" y="468.1" font-size="21" text-anchor="end">0.4</text>
<text x="80.7" y="839" font-size="22" text-anchor="middle">Γ</text>
<text x="175.0" y="839" font-size="22" text-anchor="middle">X</text>
<text x="278.0" y="839" font-size="22" text-anchor="middle">M</text>
<text x="377.8" y="839" font-size="22" text-anchor="middle">Γ</text>
<text x="229.6" y="870" font-size="22" text-anchor="middle">Wavevector</text>
<text transform="translate(28.5,653.6) rotate(-90)" font-size="22" text-anchor="middle">Normalized frequency (<tspan font-style="italic">p</tspan>/λ)</text>
<text x="3" y="469.5" font-size="24">(b)</text>
<defs><filter id="blur3" x="-50%" y="-50%" width="200%" height="200%"><feGaussianBlur stdDeviation="3"/></filter><filter id="blur2" x="-50%" y="-50%" width="200%" height="200%"><feGaussianBlur stdDeviation="2"/></filter><filter id="blur1" x="-50%" y="-20%" width="200%" height="140%"><feGaussianBlur stdDeviation="1.3"/></filter><clipPath id="xyclip"><rect x="400" y="471.2" width="223.4" height="219.4"/></clipPath><clipPath id="xzclip"><rect x="400.2" y="697" width="223.6" height="156.6"/></clipPath></defs>
<rect x="400" y="471.2" width="223.4" height="219.4" fill="#f6f3d6"/>
<defs><radialGradient id="xyh00"><stop offset="0" stop-color="#f4dcb0"/><stop offset="0.5" stop-color="#f4e0b8"/><stop offset="1" stop-color="#f5e3bd"/></radialGradient><radialGradient id="xyh01"><stop offset="0" stop-color="#f4dbaf"/><stop offset="0.5" stop-color="#f4dfb6"/><stop offset="1" stop-color="#f4e2bc"/></radialGradient><radialGradient id="xyh02"><stop offset="0" stop-color="#f4dbae"/><stop offset="0.5" stop-color="#f4dfb5"/><stop offset="1" stop-color="#f4e2bb"/></radialGradient><radialGradient id="xyh03"><stop offset="0" stop-color="#f4daad"/><stop offset="0.5" stop-color="#f4dfb5"/><stop offset="1" stop-color="#f4e2ba"/></radialGradient><radialGradient id="xyh04"><stop offset="0" stop-color="#f4dbae"/><stop offset="0.5" stop-color="#f4dfb5"/><stop offset="1" stop-color="#f4e2bb"/></radialGradient><radialGradient id="xyh05"><stop offset="0" stop-color="#f4dbaf"/><stop offset="0.5" stop-color="#f4dfb6"/><stop offset="1" stop-color="#f4e2bc"/></radialGradient><radialGradient id="xyh06"><stop offset="0" stop-color="#f4dcb0"/><stop offset="0.5" stop-color="#f4e0b8"/><stop offset="1" stop-color="#f5e3bd"/></radialGradient><radialGradient id="xyh10"><stop offset="0" stop-color="#f4dbaf"/><stop offset="0.5" stop-color="#f4dfb6"/><stop offset="1" stop-color="#f4e2bc"/></radialGradient><radialGradient id="xyh11"><stop offset="0" stop-color="#f5b870"/><stop offset="0.5" stop-color="#f4bf7d"/><stop offset="1" stop-color="#f3c98f"/></radialGradient><radialGradient id="xyh12"><stop offset="0" stop-color="#fa9632"/><stop offset="0.5" stop-color="#f89f42"/><stop offset="1" stop-color="#f6af60"/></radialGradient><radialGradient id="xyh13"><stop offset="0" stop-color="#fc7e1a"/><stop offset="0.5" stop-color="#fb8e22"/><stop offset="1" stop-color="#f8a145"/></radialGradient><radialGradient id="xyh14"><stop offset="0" stop-color="#fa9632"/><stop offset="0.5" stop-color="#f89f42"/><stop offset="1" stop-color="#f6af60"/></radialGradient><radialGradient id="xyh15"><stop offset="0" stop-color="#f5b870"/><stop offset="0.5" stop-color="#f4bf7d"/><stop offset="1" stop-color="#f3c98f"/></radialGradient><radialGradient id="xyh16"><stop offset="0" stop-color="#f4dbaf"/><stop offset="0.5" stop-color="#f4dfb6"/><stop offset="1" stop-color="#f4e2bc"/></radialGradient><radialGradient id="xyh20"><stop offset="0" stop-color="#f4dbae"/><stop offset="0.5" stop-color="#f4dfb5"/><stop offset="1" stop-color="#f4e2bb"/></radialGradient><radialGradient id="xyh21"><stop offset="0" stop-color="#fa9632"/><stop offset="0.5" stop-color="#f89f42"/><stop offset="1" stop-color="#f6af60"/></radialGradient><radialGradient id="xyh22"><stop offset="0" stop-color="#fe3206"/><stop offset="0.5" stop-color="#fd480c"/><stop offset="1" stop-color="#fc7919"/></radialGradient><radialGradient id="xyh23"><stop offset="0" stop-color="#c21200"/><stop offset="0.5" stop-color="#ed1700"/><stop offset="1" stop-color="#fd4a0c"/></radialGradient><radialGradient id="xyh24"><stop offset="0" stop-color="#fe3206"/><stop offset="0.5" stop-color="#fd480c"/><stop offset="1" stop-color="#fc7919"/></radialGradient><radialGradient id="xyh25"><stop offset="0" stop-color="#fa9632"/><stop offset="0.5" stop-color="#f89f42"/><stop offset="1" stop-color="#f6af60"/></radialGradient><radialGradient id="xyh26"><stop offset="0" stop-color="#f4dbae"/><stop offset="0.5" stop-color="#f4dfb5"/><stop offset="1" stop-color="#f4e2bb"/></radialGradient><radialGradient id="xyh30"><stop offset="0" stop-color="#f4daad"/><stop offset="0.5" stop-color="#f4dfb5"/><stop offset="1" stop-color="#f4e2ba"/></radialGradient><radialGradient id="xyh31"><stop offset="0" stop-color="#fc7e1a"/><stop offset="0.5" stop-color="#fb8e22"/><stop offset="1" stop-color="#f8a145"/></radialGradient><radialGradient id="xyh32"><stop offset="0" stop-color="#c21200"/><stop offset="0.5" stop-color="#ed1700"/><stop offset="1" stop-color="#fd4a0c"/></radialGradient><radialGradient id="xyh33"><stop offset="0" stop-color="#420200"/><stop offset="0.5" stop-color="#720800"/><stop offset="1" stop-color="#f01800"/></radialGradient><radialGradient id="xyh34"><stop offset="0" stop-color="#c21200"/><stop offset="0.5" stop-color="#ed1700"/><stop offset="1" stop-color="#fd4a0c"/></radialGradient><radialGradient id="xyh35"><stop offset="0" stop-color="#fc7e1a"/><stop offset="0.5" stop-color="#fb8e22"/><stop offset="1" stop-color="#f8a145"/></radialGradient><radialGradient id="xyh36"><stop offset="0" stop-color="#f4daad"/><stop offset="0.5" stop-color="#f4dfb5"/><stop offset="1" stop-color="#f4e2ba"/></radialGradient><radialGradient id="xyh40"><stop offset="0" stop-color="#f4dbae"/><stop offset="0.5" stop-color="#f4dfb5"/><stop offset="1" stop-color="#f4e2bb"/></radialGradient><radialGradient id="xyh41"><stop offset="0" stop-color="#fa9632"/><stop offset="0.5" stop-color="#f89f42"/><stop offset="1" stop-color="#f6af60"/></radialGradient><radialGradient id="xyh42"><stop offset="0" stop-color="#fe3206"/><stop offset="0.5" stop-color="#fd480c"/><stop offset="1" stop-color="#fc7919"/></radialGradient><radialGradient id="xyh43"><stop offset="0" stop-color="#c21200"/><stop offset="0.5" stop-color="#ed1700"/><stop offset="1" stop-color="#fd4a0c"/></radialGradient><radialGradient id="xyh44"><stop offset="0" stop-color="#fe3206"/><stop offset="0.5" stop-color="#fd480c"/><stop offset="1" stop-color="#fc7919"/></radialGradient><radialGradient id="xyh45"><stop offset="0" stop-color="#fa9632"/><stop offset="0.5" stop-color="#f89f42"/><stop offset="1" stop-color="#f6af60"/></radialGradient><radialGradient id="xyh46"><stop offset="0" stop-color="#f4dbae"/><stop offset="0.5" stop-color="#f4dfb5"/><stop offset="1" stop-color="#f4e2bb"/></radialGradient><radialGradient id="xyh50"><stop offset="0" stop-color="#f4dbaf"/><stop offset="0.5" stop-color="#f4dfb6"/><stop offset="1" stop-color="#f4e2bc"/></radialGradient><radialGradient id="xyh51"><stop offset="0" stop-color="#f5b870"/><stop offset="0.5" stop-color="#f4bf7d"/><stop offset="1" stop-color="#f3c98f"/></radialGradient><radialGradient id="xyh52"><stop offset="0" stop-color="#fa9632"/><stop offset="0.5" stop-color="#f89f42"/><stop offset="1" stop-color="#f6af60"/></radialGradient><radialGradient id="xyh53"><stop offset="0" stop-color="#fc7e1a"/><stop offset="0.5" stop-color="#fb8e22"/><stop offset="1" stop-color="#f8a145"/></radialGradient><radialGradient id="xyh54"><stop offset="0" stop-color="#fa9632"/><stop offset="0.5" stop-color="#f89f42"/><stop offset="1" stop-color="#f6af60"/></radialGradient><radialGradient id="xyh55"><stop offset="0" stop-color="#f5b870"/><stop offset="0.5" stop-color="#f4bf7d"/><stop offset="1" stop-color="#f3c98f"/></radialGradient><radialGradient id="xyh56"><stop offset="0" stop-color="#f4dbaf"/><stop offset="0.5" stop-color="#f4dfb6"/><stop offset="1" stop-color="#f4e2bc"/></radialGradient><radialGradient id="xyh60"><stop offset="0" stop-color="#f4dcb0"/><stop offset="0.5" stop-color="#f4e0b8"/><stop offset="1" stop-color="#f5e3bd"/></radialGradient><radialGradient id="xyh61"><stop offset="0" stop-color="#f4dbaf"/><stop offset="0.5" stop-color="#f4dfb6"/><stop offset="1" stop-color="#f4e2bc"/></radialGradient><radialGradient id="xyh62"><stop offset="0" stop-color="#f4dbae"/><stop offset="0.5" stop-color="#f4dfb5"/><stop offset="1" stop-color="#f4e2bb"/></radialGradient><radialGradient id="xyh63"><stop offset="0" stop-color="#f4daad"/><stop offset="0.5" stop-color="#f4dfb5"/><stop offset="1" stop-color="#f4e2ba"/></radialGradient><radialGradient id="xyh64"><stop offset="0" stop-color="#f4dbae"/><stop offset="0.5" stop-color="#f4dfb5"/><stop offset="1" stop-color="#f4e2bb"/></radialGradient><radialGradient id="xyh65"><stop offset="0" stop-color="#f4dbaf"/><stop offset="0.5" stop-color="#f4dfb6"/><stop offset="1" stop-color="#f4e2bc"/></radialGradient><radialGradient id="xyh66"><stop offset="0" stop-color="#f4dcb0"/><stop offset="0.5" stop-color="#f4e0b8"/><stop offset="1" stop-color="#f5e3bd"/></radialGradient></defs>
<g clip-path="url(#xyclip)"><circle cx="448.2" cy="516.8" r="7.4" fill="#f6b062" filter="url(#blur3)"/><circle cx="480.5" cy="516.8" r="8.1" fill="#f8a54d" filter="url(#blur3)"/><circle cx="512.8" cy="516.8" r="8.5" fill="#f89f42" filter="url(#blur3)"/><circle cx="545.1" cy="516.8" r="8.1" fill="#f8a54d" filter="url(#blur3)"/><circle cx="577.4" cy="516.8" r="7.4" fill="#f6b062" filter="url(#blur3)"/><circle cx="448.2" cy="548.4" r="8.1" fill="#f8a54d" filter="url(#blur3)"/><circle cx="480.5" cy="548.4" r="9.3" fill="#fa932c" filter="url(#blur3)"/><circle cx="512.8" cy="548.4" r="9.8" fill="#fc891d" filter="url(#blur3)"/><circle cx="545.1" cy="548.4" r="9.3" fill="#fa932c" filter="url(#blur3)"/><circle cx="577.4" cy="548.4" r="8.1" fill="#f8a54d" filter="url(#blur3)"/><circle cx="448.2" cy="580.0" r="8.5" fill="#f89f42" filter="url(#blur3)"/><circle cx="480.5" cy="580.0" r="9.8" fill="#fc891d" filter="url(#blur3)"/><circle cx="512.8" cy="580.0" r="10.5" fill="#fc7517" filter="url(#blur3)"/><circle cx="545.1" cy="580.0" r="9.8" fill="#fc891d" filter="url(#blur3)"/><circle cx="577.4" cy="580.0" r="8.5" fill="#f89f42" filter="url(#blur3)"/><circle cx="448.2" cy="611.6" r="8.1" fill="#f8a54d" filter="url(#blur3)"/><circle cx="480.5" cy="611.6" r="9.3" fill="#fa932c" filter="url(#blur3)"/><circle cx="512.8" cy="611.6" r="9.8" fill="#fc891d" filter="url(#blur3)"/><circle cx="545.1" cy="611.6" r="9.3" fill="#fa932c" filter="url(#blur3)"/><circle cx="577.4" cy="611.6" r="8.1" fill="#f8a54d" filter="url(#blur3)"/><circle cx="448.2" cy="643.2" r="7.4" fill="#f6b062" filter="url(#blur3)"/><circle cx="480.5" cy="643.2" r="8.1" fill="#f8a54d" filter="url(#blur3)"/><circle cx="512.8" cy="643.2" r="8.5" fill="#f89f42" filter="url(#blur3)"/><circle cx="545.1" cy="643.2" r="8.1" fill="#f8a54d" filter="url(#blur3)"/><circle cx="577.4" cy="643.2" r="7.4" fill="#f6b062" filter="url(#blur3)"/></g>
<polygon points="410.0,485.2 412.9,480.3 418.8,480.3 421.8,485.2 418.8,490.1 412.9,490.1" fill="url(#xyh00)" stroke="#6e5a3c" stroke-width="0.9"/>
<polygon points="442.3,485.2 445.2,480.3 451.1,480.3 454.1,485.2 451.1,490.1 445.2,490.1" fill="url(#xyh01)" stroke="#6e5a3c" stroke-width="0.9"/>
<polygon points="474.6,485.2 477.6,480.3 483.4,480.3 486.4,485.2 483.4,490.1 477.6,490.1" fill="url(#xyh02)" stroke="#6e5a3c" stroke-width="0.9"/>
<polygon points="506.9,485.2 509.8,480.3 515.8,480.3 518.7,485.2 515.8,490.1 509.8,490.1" fill="url(#xyh03)" stroke="#6e5a3c" stroke-width="0.9"/>
<polygon points="539.2,485.2 542.1,480.3 548.0,480.3 551.0,485.2 548.0,490.1 542.1,490.1" fill="url(#xyh04)" stroke="#6e5a3c" stroke-width="0.9"/>
<polygon points="571.5,485.2 574.4,480.3 580.4,480.3 583.3,485.2 580.4,490.1 574.4,490.1" fill="url(#xyh05)" stroke="#6e5a3c" stroke-width="0.9"/>
<polygon points="603.8,485.2 606.7,480.3 612.6,480.3 615.6,485.2 612.6,490.1 606.7,490.1" fill="url(#xyh06)" stroke="#6e5a3c" stroke-width="0.9"/>
<polygon points="410.0,516.8 412.9,511.9 418.8,511.9 421.8,516.8 418.8,521.7 412.9,521.7" fill="url(#xyh10)" stroke="#6e5a3c" stroke-width="0.9"/>
<polygon points="442.3,516.8 445.2,511.9 451.1,511.9 454.1,516.8 451.1,521.7 445.2,521.7" fill="url(#xyh11)" stroke="#6e5a3c" stroke-width="0.9"/>
<polygon points="474.6,516.8 477.6,511.9 483.4,511.9 486.4,516.8 483.4,521.7 477.6,521.7" fill="url(#xyh12)" stroke="#6e5a3c" stroke-width="0.9"/>
<polygon points="506.9,516.8 509.8,511.9 515.8,511.9 518.7,516.8 515.8,521.7 509.8,521.7" fill="url(#xyh13)" stroke="#8a3a10" stroke-width="0.9"/>
<polygon points="539.2,516.8 542.1,511.9 548.0,511.9 551.0,516.8 548.0,521.7 542.1,521.7" fill="url(#xyh14)" stroke="#6e5a3c" stroke-width="0.9"/>
<polygon points="571.5,516.8 574.4,511.9 580.4,511.9 583.3,516.8 580.4,521.7 574.4,521.7" fill="url(#xyh15)" stroke="#6e5a3c" stroke-width="0.9"/>
<polygon points="603.8,516.8 606.7,511.9 612.6,511.9 615.6,516.8 612.6,521.7 606.7,521.7" fill="url(#xyh16)" stroke="#6e5a3c" stroke-width="0.9"/>
<polygon points="410.0,548.4 412.9,543.5 418.8,543.5 421.8,548.4 418.8,553.3 412.9,553.3" fill="url(#xyh20)" stroke="#6e5a3c" stroke-width="0.9"/>
<polygon points="442.3,548.4 445.2,543.5 451.1,543.5 454.1,548.4 451.1,553.3 445.2,553.3" fill="url(#xyh21)" stroke="#6e5a3c" stroke-width="0.9"/>
<polygon points="474.6,548.4 477.6,543.5 483.4,543.5 486.4,548.4 483.4,553.3 477.6,553.3" fill="url(#xyh22)" stroke="#8a3a10" stroke-width="0.9"/>
<polygon points="506.9,548.4 509.8,543.5 515.8,543.5 518.7,548.4 515.8,553.3 509.8,553.3" fill="url(#xyh23)" stroke="#8a3a10" stroke-width="0.9"/>
<polygon points="539.2,548.4 542.1,543.5 548.0,543.5 551.0,548.4 548.0,553.3 542.1,553.3" fill="url(#xyh24)" stroke="#8a3a10" stroke-width="0.9"/>
<polygon points="571.5,548.4 574.4,543.5 580.4,543.5 583.3,548.4 580.4,553.3 574.4,553.3" fill="url(#xyh25)" stroke="#6e5a3c" stroke-width="0.9"/>
<polygon points="603.8,548.4 606.7,543.5 612.6,543.5 615.6,548.4 612.6,553.3 606.7,553.3" fill="url(#xyh26)" stroke="#6e5a3c" stroke-width="0.9"/>
<polygon points="410.0,580.0 412.9,575.1 418.8,575.1 421.8,580.0 418.8,584.9 412.9,584.9" fill="url(#xyh30)" stroke="#6e5a3c" stroke-width="0.9"/>
<polygon points="442.3,580.0 445.2,575.1 451.1,575.1 454.1,580.0 451.1,584.9 445.2,584.9" fill="url(#xyh31)" stroke="#8a3a10" stroke-width="0.9"/>
<polygon points="474.6,580.0 477.6,575.1 483.4,575.1 486.4,580.0 483.4,584.9 477.6,584.9" fill="url(#xyh32)" stroke="#8a3a10" stroke-width="0.9"/>
<polygon points="506.9,580.0 509.8,575.1 515.8,575.1 518.7,580.0 515.8,584.9 509.8,584.9" fill="url(#xyh33)" stroke="#8a3a10" stroke-width="0.9"/>
<polygon points="539.2,580.0 542.1,575.1 548.0,575.1 551.0,580.0 548.0,584.9 542.1,584.9" fill="url(#xyh34)" stroke="#8a3a10" stroke-width="0.9"/>
<polygon points="571.5,580.0 574.4,575.1 580.4,575.1 583.3,580.0 580.4,584.9 574.4,584.9" fill="url(#xyh35)" stroke="#8a3a10" stroke-width="0.9"/>
<polygon points="603.8,580.0 606.7,575.1 612.6,575.1 615.6,580.0 612.6,584.9 606.7,584.9" fill="url(#xyh36)" stroke="#6e5a3c" stroke-width="0.9"/>
<polygon points="410.0,611.6 412.9,606.7 418.8,606.7 421.8,611.6 418.8,616.5 412.9,616.5" fill="url(#xyh40)" stroke="#6e5a3c" stroke-width="0.9"/>
<polygon points="442.3,611.6 445.2,606.7 451.1,606.7 454.1,611.6 451.1,616.5 445.2,616.5" fill="url(#xyh41)" stroke="#6e5a3c" stroke-width="0.9"/>
<polygon points="474.6,611.6 477.6,606.7 483.4,606.7 486.4,611.6 483.4,616.5 477.6,616.5" fill="url(#xyh42)" stroke="#8a3a10" stroke-width="0.9"/>
<polygon points="506.9,611.6 509.8,606.7 515.8,606.7 518.7,611.6 515.8,616.5 509.8,616.5" fill="url(#xyh43)" stroke="#8a3a10" stroke-width="0.9"/>
<polygon points="539.2,611.6 542.1,606.7 548.0,606.7 551.0,611.6 548.0,616.5 542.1,616.5" fill="url(#xyh44)" stroke="#8a3a10" stroke-width="0.9"/>
<polygon points="571.5,611.6 574.4,606.7 580.4,606.7 583.3,611.6 580.4,616.5 574.4,616.5" fill="url(#xyh45)" stroke="#6e5a3c" stroke-width="0.9"/>
<polygon points="603.8,611.6 606.7,606.7 612.6,606.7 615.6,611.6 612.6,616.5 606.7,616.5" fill="url(#xyh46)" stroke="#6e5a3c" stroke-width="0.9"/>
<polygon points="410.0,643.2 412.9,638.3 418.8,638.3 421.8,643.2 418.8,648.1 412.9,648.1" fill="url(#xyh50)" stroke="#6e5a3c" stroke-width="0.9"/>
<polygon points="442.3,643.2 445.2,638.3 451.1,638.3 454.1,643.2 451.1,648.1 445.2,648.1" fill="url(#xyh51)" stroke="#6e5a3c" stroke-width="0.9"/>
<polygon points="474.6,643.2 477.6,638.3 483.4,638.3 486.4,643.2 483.4,648.1 477.6,648.1" fill="url(#xyh52)" stroke="#6e5a3c" stroke-width="0.9"/>
<polygon points="506.9,643.2 509.8,638.3 515.8,638.3 518.7,643.2 515.8,648.1 509.8,648.1" fill="url(#xyh53)" stroke="#8a3a10" stroke-width="0.9"/>
<polygon points="539.2,643.2 542.1,638.3 548.0,638.3 551.0,643.2 548.0,648.1 542.1,648.1" fill="url(#xyh54)" stroke="#6e5a3c" stroke-width="0.9"/>
<polygon points="571.5,643.2 574.4,638.3 580.4,638.3 583.3,643.2 580.4,648.1 574.4,648.1" fill="url(#xyh55)" stroke="#6e5a3c" stroke-width="0.9"/>
<polygon points="603.8,643.2 606.7,638.3 612.6,638.3 615.6,643.2 612.6,648.1 606.7,648.1" fill="url(#xyh56)" stroke="#6e5a3c" stroke-width="0.9"/>
<polygon points="410.0,674.8 412.9,669.9 418.8,669.9 421.8,674.8 418.8,679.7 412.9,679.7" fill="url(#xyh60)" stroke="#6e5a3c" stroke-width="0.9"/>
<polygon points="442.3,674.8 445.2,669.9 451.1,669.9 454.1,674.8 451.1,679.7 445.2,679.7" fill="url(#xyh61)" stroke="#6e5a3c" stroke-width="0.9"/>
<polygon points="474.6,674.8 477.6,669.9 483.4,669.9 486.4,674.8 483.4,679.7 477.6,679.7" fill="url(#xyh62)" stroke="#6e5a3c" stroke-width="0.9"/>
<polygon points="506.9,674.8 509.8,669.9 515.8,669.9 518.7,674.8 515.8,679.7 509.8,679.7" fill="url(#xyh63)" stroke="#6e5a3c" stroke-width="0.9"/>
<polygon points="539.2,674.8 542.1,669.9 548.0,669.9 551.0,674.8 548.0,679.7 542.1,679.7" fill="url(#xyh64)" stroke="#6e5a3c" stroke-width="0.9"/>
<polygon points="571.5,674.8 574.4,669.9 580.4,669.9 583.3,674.8 580.4,679.7 574.4,679.7" fill="url(#xyh65)" stroke="#6e5a3c" stroke-width="0.9"/>
<polygon points="603.8,674.8 606.7,669.9 612.6,669.9 615.6,674.8 612.6,679.7 606.7,679.7" fill="url(#xyh66)" stroke="#6e5a3c" stroke-width="0.9"/>
<rect x="400" y="471.2" width="223.4" height="219.4" fill="none" stroke="#55554a" stroke-width="1.3"/>
<text x="515" y="463" font-size="24" text-anchor="middle"><tspan font-style="italic">xy</tspan> plane (|E|<tspan font-size="15" dy="-9">2</tspan><tspan dy="9">)</tspan></text>
<rect x="400.2" y="697" width="223.6" height="156.6" fill="#f6f3d6"/>
<defs><linearGradient id="xze0" x1="0" y1="0" x2="0" y2="1"><stop offset="0" stop-color="#f5eac9"/><stop offset="0.1" stop-color="#f5eac9"/><stop offset="0.22" stop-color="#f5eac8"/><stop offset="0.32" stop-color="#f5e8c5"/><stop offset="0.45" stop-color="#f5e5bf"/><stop offset="0.6" stop-color="#f5e3bd"/><stop offset="0.75" stop-color="#f5e3bc"/><stop offset="0.88" stop-color="#f5e4be"/><stop offset="0.96" stop-color="#f5e5c0"/><stop offset="1" stop-color="#f5e6c2"/></linearGradient><linearGradient id="xzc0" x1="0" y1="0" x2="0" y2="1"><stop offset="0" stop-color="#f5eac9"/><stop offset="0.1" stop-color="#f5eac9"/><stop offset="0.22" stop-color="#f5eac8"/><stop offset="0.32" stop-color="#f5e7c3"/><stop offset="0.45" stop-color="#f4e3bc"/><stop offset="0.6" stop-color="#f4e0b8"/><stop offset="0.75" stop-color="#f4e0b7"/><stop offset="0.88" stop-color="#f4e1b9"/><stop offset="0.96" stop-color="#f5e3bd"/><stop offset="1" stop-color="#f5e5bf"/></linearGradient><linearGradient id="xze1" x1="0" y1="0" x2="0" y2="1"><stop offset="0" stop-color="#f5eac9"/><stop offset="0.1" stop-color="#f5eac9"/><stop offset="0.22" stop-color="#f5e7c3"/><stop offset="0.32" stop-color="#f4d9ac"/><stop offset="0.45" stop-color="#f3c68a"/><stop offset="0.6" stop-color="#f4b972"/><stop offset="0.75" stop-color="#f5b66c"/><stop offset="0.88" stop-color="#f4bc78"/><stop offset="0.96" stop-color="#f3c88e"/><stop offset="1" stop-color="#f3d09b"/></linearGradient><linearGradient id="xzc1" x1="0" y1="0" x2="0" y2="1"><stop offset="0" stop-color="#f5eac9"/><stop offset="0.1" stop-color="#f5eac9"/><stop offset="0.22" stop-color="#f5e5c0"/><stop offset="0.32" stop-color="#f3d3a0"/><stop offset="0.45" stop-color="#f5b367"/><stop offset="0.6" stop-color="#f8a146"/><stop offset="0.75" stop-color="#f99d3e"/><stop offset="0.88" stop-color="#f7a64f"/><stop offset="0.96" stop-color="#f5b870"/><stop offset="1" stop-color="#f3c589"/></linearGradient><linearGradient id="xze2" x1="0" y1="0" x2="0" y2="1"><stop offset="0" stop-color="#f5eac9"/><stop offset="0.1" stop-color="#f5eac9"/><stop offset="0.22" stop-color="#f5e4bf"/><stop offset="0.32" stop-color="#f3d09b"/><stop offset="0.45" stop-color="#f7ab58"/><stop offset="0.6" stop-color="#fa9732"/><stop offset="0.75" stop-color="#fb9229"/><stop offset="0.88" stop-color="#f99c3c"/><stop offset="0.96" stop-color="#f6b061"/><stop offset="1" stop-color="#f4bf7d"/></linearGradient><linearGradient id="xzc2" x1="0" y1="0" x2="0" y2="1"><stop offset="0" stop-color="#f5eac9"/><stop offset="0.1" stop-color="#f5eac9"/><stop offset="0.22" stop-color="#f4e2bb"/><stop offset="0.32" stop-color="#f3c589"/><stop offset="0.45" stop-color="#fb8d21"/><stop offset="0.6" stop-color="#fd5910"/><stop offset="0.75" stop-color="#fd4b0c"/><stop offset="0.88" stop-color="#fc6614"/><stop offset="0.96" stop-color="#fa942e"/><stop offset="1" stop-color="#f7a955"/></linearGradient><linearGradient id="xze3" x1="0" y1="0" x2="0" y2="1"><stop offset="0" stop-color="#f5eac9"/><stop offset="0.1" stop-color="#f5eac9"/><stop offset="0.22" stop-color="#f5e3bd"/><stop offset="0.32" stop-color="#f3cb92"/><stop offset="0.45" stop-color="#f99c3c"/><stop offset="0.6" stop-color="#fc7d1a"/><stop offset="0.75" stop-color="#fc7116"/><stop offset="0.88" stop-color="#fc891d"/><stop offset="0.96" stop-color="#f8a247"/><stop offset="1" stop-color="#f5b469"/></linearGradient><linearGradient id="xzc3" x1="0" y1="0" x2="0" y2="1"><stop offset="0" stop-color="#f5eac9"/><stop offset="0.1" stop-color="#f5eac9"/><stop offset="0.22" stop-color="#f4e0b8"/><stop offset="0.32" stop-color="#f4bc77"/><stop offset="0.45" stop-color="#fc6714"/><stop offset="0.6" stop-color="#fe2503"/><stop offset="0.75" stop-color="#f61800"/><stop offset="0.88" stop-color="#fe3607"/><stop offset="0.96" stop-color="#fc7718"/><stop offset="1" stop-color="#f99a39"/></linearGradient><linearGradient id="xze4" x1="0" y1="0" x2="0" y2="1"><stop offset="0" stop-color="#f5eac9"/><stop offset="0.1" stop-color="#f5eac9"/><stop offset="0.22" stop-color="#f5e4bf"/><stop offset="0.32" stop-color="#f3d09b"/><stop offset="0.45" stop-color="#f7ab58"/><stop offset="0.6" stop-color="#fa9732"/><stop offset="0.75" stop-color="#fb9229"/><stop offset="0.88" stop-color="#f99c3c"/><stop offset="0.96" stop-color="#f6b061"/><stop offset="1" stop-color="#f4bf7d"/></linearGradient><linearGradient id="xzc4" x1="0" y1="0" x2="0" y2="1"><stop offset="0" stop-color="#f5eac9"/><stop offset="0.1" stop-color="#f5eac9"/><stop offset="0.22" stop-color="#f4e2bb"/><stop offset="0.32" stop-color="#f3c589"/><stop offset="0.45" stop-color="#fb8d21"/><stop offset="0.6" stop-color="#fd5910"/><stop offset="0.75" stop-color="#fd4b0c"/><stop offset="0.88" stop-color="#fc6614"/><stop offset="0.96" stop-color="#fa942e"/><stop offset="1" stop-color="#f7a955"/></linearGradient><linearGradient id="xze5" x1="0" y1="0" x2="0" y2="1"><stop offset="0" stop-color="#f5eac9"/><stop offset="0.1" stop-color="#f5eac9"/><stop offset="0.22" stop-color="#f5e7c3"/><stop offset="0.32" stop-color="#f4d9ac"/><stop offset="0.45" stop-color="#f3c68a"/><stop offset="0.6" stop-color="#f4b972"/><stop offset="0.75" stop-color="#f5b66c"/><stop offset="0.88" stop-color="#f4bc78"/><stop offset="0.96" stop-color="#f3c88e"/><stop offset="1" stop-color="#f3d09b"/></linearGradient><linearGradient id="xzc5" x1="0" y1="0" x2="0" y2="1"><stop offset="0" stop-color="#f5eac9"/><stop offset="0.1" stop-color="#f5eac9"/><stop offset="0.22" stop-color="#f5e5c0"/><stop offset="0.32" stop-color="#f3d3a0"/><stop offset="0.45" stop-color="#f5b367"/><stop offset="0.6" stop-color="#f8a146"/><stop offset="0.75" stop-color="#f99d3e"/><stop offset="0.88" stop-color="#f7a64f"/><stop offset="0.96" stop-color="#f5b870"/><stop offset="1" stop-color="#f3c589"/></linearGradient><linearGradient id="xze6" x1="0" y1="0" x2="0" y2="1"><stop offset="0" stop-color="#f5eac9"/><stop offset="0.1" stop-color="#f5eac9"/><stop offset="0.22" stop-color="#f5eac8"/><stop offset="0.32" stop-color="#f5e8c5"/><stop offset="0.45" stop-color="#f5e5bf"/><stop offset="0.6" stop-color="#f5e3bd"/><stop offset="0.75" stop-color="#f5e3bc"/><stop offset="0.88" stop-color="#f5e4be"/><stop offset="0.96" stop-color="#f5e5c0"/><stop offset="1" stop-color="#f5e6c2"/></linearGradient><linearGradient id="xzc6" x1="0" y1="0" x2="0" y2="1"><stop offset="0" stop-color="#f5eac9"/><stop offset="0.1" stop-color="#f5eac9"/><stop offset="0.22" stop-color="#f5eac8"/><stop offset="0.32" stop-color="#f5e7c3"/><stop offset="0.45" stop-color="#f4e3bc"/><stop offset="0.6" stop-color="#f4e0b8"/><stop offset="0.75" stop-color="#f4e0b7"/><stop offset="0.88" stop-color="#f4e1b9"/><stop offset="0.96" stop-color="#f5e3bd"/><stop offset="1" stop-color="#f5e5bf"/></linearGradient></defs>
<g clip-path="url(#xzclip)"><ellipse cx="457.2" cy="720" rx="7" ry="4" fill="#f5b56b" filter="url(#blur2)"/><rect x="449.7" y="745" width="15" height="82" fill="#f3c283" opacity="0.8" filter="url(#blur2)"/><ellipse cx="484.3" cy="720" rx="7" ry="4" fill="#f99937" filter="url(#blur2)"/><rect x="476.8" y="745" width="15" height="82" fill="#f6ad5c" opacity="0.8" filter="url(#blur2)"/><ellipse cx="484.3" cy="838" rx="6" ry="6" fill="#f5b76f" opacity="0.7" filter="url(#blur2)"/><ellipse cx="512.5" cy="720" rx="7" ry="4" fill="#fc8c1e" filter="url(#blur2)"/><rect x="505.0" y="745" width="15" height="82" fill="#f8a349" opacity="0.8" filter="url(#blur2)"/><ellipse cx="512.5" cy="838" rx="6" ry="6" fill="#f6ae5e" opacity="0.7" filter="url(#blur2)"/><ellipse cx="540" cy="720" rx="7" ry="4" fill="#f99937" filter="url(#blur2)"/><rect x="532.5" y="745" width="15" height="82" fill="#f6ad5c" opacity="0.8" filter="url(#blur2)"/><ellipse cx="540" cy="838" rx="6" ry="6" fill="#f5b76f" opacity="0.7" filter="url(#blur2)"/><ellipse cx="568.4" cy="720" rx="7" ry="4" fill="#f5b56b" filter="url(#blur2)"/><rect x="560.9" y="745" width="15" height="82" fill="#f3c283" opacity="0.8" filter="url(#blur2)"/></g>
<rect x="423.65" y="721.3" width="11.7" height="107.3" fill="url(#xze0)"/>
<rect x="426.50" y="721.3" width="6" height="107.3" fill="url(#xzc0)" filter="url(#blur1)"/>
<rect x="423.65" y="721.3" width="11.7" height="107.3" fill="none" stroke="#6e5a3c" stroke-width="0.9"/>
<rect x="451.35" y="721.3" width="11.7" height="107.3" fill="url(#xze1)"/>
<rect x="454.20" y="721.3" width="6" height="107.3" fill="url(#xzc1)" filter="url(#blur1)"/>
<rect x="451.35" y="721.3" width="11.7" height="107.3" fill="none" stroke="#7a3a14" stroke-width="0.9"/>
<rect x="478.45" y="721.3" width="11.7" height="107.3" fill="url(#xze2)"/>
<rect x="481.30" y="721.3" width="6" height="107.3" fill="url(#xzc2)" filter="url(#blur1)"/>
<rect x="478.45" y="721.3" width="11.7" height="107.3" fill="none" stroke="#7a3a14" stroke-width="0.9"/>
<rect x="506.65" y="721.3" width="11.7" height="107.3" fill="url(#xze3)"/>
<rect x="509.50" y="721.3" width="6" height="107.3" fill="url(#xzc3)" filter="url(#blur1)"/>
<rect x="506.65" y="721.3" width="11.7" height="107.3" fill="none" stroke="#7a3a14" stroke-width="0.9"/>
<rect x="534.15" y="721.3" width="11.7" height="107.3" fill="url(#xze4)"/>
<rect x="537.00" y="721.3" width="6" height="107.3" fill="url(#xzc4)" filter="url(#blur1)"/>
<rect x="534.15" y="721.3" width="11.7" height="107.3" fill="none" stroke="#7a3a14" stroke-width="0.9"/>
<rect x="562.55" y="721.3" width="11.7" height="107.3" fill="url(#xze5)"/>
<rect x="565.40" y="721.3" width="6" height="107.3" fill="url(#xzc5)" filter="url(#blur1)"/>
<rect x="562.55" y="721.3" width="11.7" height="107.3" fill="none" stroke="#7a3a14" stroke-width="0.9"/>
<rect x="590.15" y="721.3" width="11.7" height="107.3" fill="url(#xze6)"/>
<rect x="593.00" y="721.3" width="6" height="107.3" fill="url(#xzc6)" filter="url(#blur1)"/>
<rect x="590.15" y="721.3" width="11.7" height="107.3" fill="none" stroke="#6e5a3c" stroke-width="0.9"/>
<path d="M400.2,828.6 L623.8,828.6 M400.2,831.4 L623.8,831.4" stroke="#6a6a5a" stroke-width="0.9"/>
<rect x="400.2" y="697" width="223.6" height="156.6" fill="none" stroke="#55554a" stroke-width="1.3"/>
<text x="512.5" y="850" font-size="24" text-anchor="middle"><tspan font-style="italic">xz</tspan> plane (|E|<tspan font-size="15" dy="-9">2</tspan><tspan dy="9">)</tspan></text>
<defs><linearGradient id="cbar" x1="0" y1="1" x2="0" y2="0"><stop offset="0.00" stop-color="#f6f2d6"/><stop offset="0.10" stop-color="#f4e0b7"/><stop offset="0.20" stop-color="#f3ce99"/><stop offset="0.30" stop-color="#f4ba74"/><stop offset="0.40" stop-color="#f8a349"/><stop offset="0.50" stop-color="#fc8c1e"/><stop offset="0.60" stop-color="#fd5e11"/><stop offset="0.70" stop-color="#fe3005"/><stop offset="0.80" stop-color="#d51400"/><stop offset="0.90" stop-color="#840a00"/><stop offset="1.00" stop-color="#320000"/></linearGradient></defs>
<rect x="639.1" y="598.9" width="15.2" height="115.4" fill="url(#cbar)"/>
<text x="650" y="591.5" font-size="24" text-anchor="middle">Max</text>
<text x="650.3" y="763.5" font-size="24" text-anchor="middle">Min</text>
<path d="M139.6,961.4 L222,941.7 L304.5,929.4  C315.51,939.09 365.18,978.58 387.10,1002.10 C409.02,1025.62 446.98,1078.08 468.90,1105.80 C490.82,1133.52 540.49,1196.11 551.50,1210.00" fill="none" stroke="#d01426" stroke-width="1.8" stroke-dasharray="8.5 8.4"/>
<path d="M139.70,1222.60 C150.69,1208.80 200.17,1140.70 222.10,1119.10 C244.03,1097.50 282.20,1073.92 304.20,1060.60 C326.20,1047.28 365.14,1030.91 387.10,1019.20 C409.06,1007.49 446.99,985.07 468.90,972.80 C490.81,960.53 540.40,933.28 551.40,927.20" fill="none" stroke="#2414bc" stroke-width="1.8" stroke-dasharray="8.5 8.4"/>
<circle cx="139.6" cy="961.4" r="5.6" fill="#ff0000"/>
<circle cx="222" cy="941.7" r="5.6" fill="#ff0000"/>
<circle cx="304.5" cy="929.4" r="5.6" fill="#ff0000"/>
<circle cx="387.1" cy="1002.1" r="5.6" fill="#ff0000"/>
<circle cx="468.9" cy="1105.8" r="5.6" fill="#ff0000"/>
<circle cx="551.5" cy="1210" r="5.6" fill="#ff0000"/>
<circle cx="139.7" cy="1222.6" r="5.6" fill="#0000ff"/>
<circle cx="222.1" cy="1119.1" r="5.6" fill="#0000ff"/>
<circle cx="304.2" cy="1060.6" r="5.6" fill="#0000ff"/>
<circle cx="387.1" cy="1019.2" r="5.6" fill="#0000ff"/>
<circle cx="468.9" cy="972.8" r="5.6" fill="#0000ff"/>
<circle cx="551.4" cy="927.2" r="5.6" fill="#0000ff"/>
<ellipse cx="222.7" cy="951.1" rx="15.2" ry="25" fill="none" stroke="#e01010" stroke-width="1.4"/>
<path d="M222.7,976.2 L186,976.2" stroke="#e01010" stroke-width="1.6"/>
<path d="M173.3,976.3 L188,971.4 L188,981.2 Z" fill="#ff0000"/>
<ellipse cx="469.6" cy="983.7" rx="15.4" ry="24.9" fill="none" stroke="#1010d8" stroke-width="1.4"/>
<path d="M469.6,1008.6 L507,1008.6" stroke="#1010d8" stroke-width="1.6"/>
<path d="M519.5,1008.6 L505,1003.9 L505,1013.3 Z" fill="#0000ff"/>
<path d="M119.5,905.8 L572.6,905.8" stroke="#000" stroke-width="1.8"/>
<path d="M119.5,904.9 L119.5,1237.5 L572.6,1237.5" fill="none" stroke="#000" stroke-width="1.8"/>
<path d="M572.6,904.9 L572.6,1238.4" stroke="#0000ff" stroke-width="1.8"/>
<path d="M140.50,1237.5 L140.50,1231.5" stroke="#000" stroke-width="1.6"/>
<text x="140.50" y="1263.5" font-size="24.5" text-anchor="middle">0</text>
<path d="M181.63,1237.5 L181.63,1234.3" stroke="#000" stroke-width="1.6"/>
<path d="M222.76,1237.5 L222.76,1231.5" stroke="#000" stroke-width="1.6"/>
<text x="222.76" y="1263.5" font-size="24.5" text-anchor="middle">20</text>
<path d="M263.89,1237.5 L263.89,1234.3" stroke="#000" stroke-width="1.6"/>
<path d="M305.02,1237.5 L305.02,1231.5" stroke="#000" stroke-width="1.6"/>
<text x="305.02" y="1263.5" font-size="24.5" text-anchor="middle">40</text>
<path d="M346.15,1237.5 L346.15,1234.3" stroke="#000" stroke-width="1.6"/>
<path d="M387.28,1237.5 L387.28,1231.5" stroke="#000" stroke-width="1.6"/>
<text x="387.28" y="1263.5" font-size="24.5" text-anchor="middle">60</text>
<path d="M428.41,1237.5 L428.41,1234.3" stroke="#000" stroke-width="1.6"/>
<path d="M469.54,1237.5 L469.54,1231.5" stroke="#000" stroke-width="1.6"/>
<text x="469.54" y="1263.5" font-size="24.5" text-anchor="middle">80</text>
<path d="M510.67,1237.5 L510.67,1234.3" stroke="#000" stroke-width="1.6"/>
<path d="M551.80,1237.5 L551.80,1231.5" stroke="#000" stroke-width="1.6"/>
<text x="551.80" y="1263.5" font-size="24.5" text-anchor="middle">100</text>
<path d="M119.5,1225.41 L122.7,1225.41" stroke="#000" stroke-width="1.6"/>
<path d="M119.5,1203.34 L125.5,1203.34" stroke="#000" stroke-width="1.6"/>
<text x="113" y="1211.64" font-size="24.5" text-anchor="end">800</text>
<path d="M119.5,1181.27 L122.7,1181.27" stroke="#000" stroke-width="1.6"/>
<path d="M119.5,1159.20 L125.5,1159.20" stroke="#000" stroke-width="1.6"/>
<text x="113" y="1167.50" font-size="24.5" text-anchor="end">1000</text>
<path d="M119.5,1137.13 L122.7,1137.13" stroke="#000" stroke-width="1.6"/>
<path d="M119.5,1115.06 L125.5,1115.06" stroke="#000" stroke-width="1.6"/>
<text x="113" y="1123.36" font-size="24.5" text-anchor="end">1200</text>
<path d="M119.5,1092.99 L122.7,1092.99" stroke="#000" stroke-width="1.6"/>
<path d="M119.5,1070.92 L125.5,1070.92" stroke="#000" stroke-width="1.6"/>
<text x="113" y="1079.22" font-size="24.5" text-anchor="end">1400</text>
<path d="M119.5,1048.85 L122.7,1048.85" stroke="#000" stroke-width="1.6"/>
<path d="M119.5,1026.78 L125.5,1026.78" stroke="#000" stroke-width="1.6"/>
<text x="113" y="1035.08" font-size="24.5" text-anchor="end">1600</text>
<path d="M119.5,1004.71 L122.7,1004.71" stroke="#000" stroke-width="1.6"/>
<path d="M119.5,982.64 L125.5,982.64" stroke="#000" stroke-width="1.6"/>
<text x="113" y="990.94" font-size="24.5" text-anchor="end">1800</text>
<path d="M119.5,960.57 L122.7,960.57" stroke="#000" stroke-width="1.6"/>
<path d="M119.5,938.50 L125.5,938.50" stroke="#000" stroke-width="1.6"/>
<text x="113" y="946.80" font-size="24.5" text-anchor="end">2000</text>
<path d="M119.5,916.43 L122.7,916.43" stroke="#000" stroke-width="1.6"/>
<path d="M572.6,1196.30 L566.6,1196.30" stroke="#0000ff" stroke-width="1.6"/>
<text x="580" y="1204.60" font-size="24.5" fill="#0000ff">1020</text>
<path d="M572.6,1157.60 L569.4,1157.60" stroke="#0000ff" stroke-width="1.6"/>
<path d="M572.6,1118.90 L566.6,1118.90" stroke="#0000ff" stroke-width="1.6"/>
<text x="580" y="1127.20" font-size="24.5" fill="#0000ff">1040</text>
<path d="M572.6,1080.20 L569.4,1080.20" stroke="#0000ff" stroke-width="1.6"/>
<path d="M572.6,1041.50 L566.6,1041.50" stroke="#0000ff" stroke-width="1.6"/>
<text x="580" y="1049.80" font-size="24.5" fill="#0000ff">1060</text>
<path d="M572.6,1002.80 L569.4,1002.80" stroke="#0000ff" stroke-width="1.6"/>
<path d="M572.6,964.10 L566.6,964.10" stroke="#0000ff" stroke-width="1.6"/>
<text x="580" y="972.40" font-size="24.5" fill="#0000ff">1080</text>
<path d="M572.6,925.40 L569.4,925.40" stroke="#0000ff" stroke-width="1.6"/>
<text x="2" y="916" font-size="25">(c)</text>
<text transform="translate(42.6,1086.7) rotate(-90)" font-size="25" text-anchor="middle">Q factor</text>
<text transform="translate(656.8,1082.7) rotate(-90)" font-size="25" text-anchor="middle" fill="#0000ff">Resonant wavelength (nm)</text>
<text x="345.3" y="1304.3" font-size="26" text-anchor="middle"><tspan font-style="italic">t</tspan> (nm)</text>
<path d="M144.40,1664.10 C157.85,1661.78 218.51,1654.59 245.30,1646.70 C272.09,1638.81 318.47,1621.87 345.30,1604.90 C372.13,1587.93 419.57,1552.92 446.50,1519.40 C473.43,1485.88 533.86,1375.62 547.30,1353.50" fill="none" stroke="#d01426" stroke-width="1.8" stroke-dasharray="8.5 8.4"/>
<path d="M144.20,1358.10 C157.68,1380.46 218.49,1494.56 245.30,1525.80 C272.11,1557.04 318.47,1577.64 345.30,1592.40 C372.13,1607.16 419.57,1628.85 446.50,1636.50 C473.43,1644.15 533.86,1648.03 547.30,1649.80" fill="none" stroke="#2414bc" stroke-width="1.8" stroke-dasharray="8.5 8.4"/>
<circle cx="144.4" cy="1664.1" r="5.6" fill="#ff0000"/>
<circle cx="245.3" cy="1646.7" r="5.6" fill="#ff0000"/>
<circle cx="345.3" cy="1604.9" r="5.6" fill="#ff0000"/>
<circle cx="446.5" cy="1519.4" r="5.6" fill="#ff0000"/>
<circle cx="547.3" cy="1353.5" r="5.6" fill="#ff0000"/>
<circle cx="144.2" cy="1358.1" r="5.6" fill="#0000ff"/>
<circle cx="245.3" cy="1525.8" r="5.6" fill="#0000ff"/>
<circle cx="345.3" cy="1592.4" r="5.6" fill="#0000ff"/>
<circle cx="446.5" cy="1636.5" r="5.6" fill="#0000ff"/>
<circle cx="547.3" cy="1649.8" r="5.6" fill="#0000ff"/>
<ellipse cx="244.4" cy="1634.4" rx="15.4" ry="25.2" fill="none" stroke="#e01010" stroke-width="1.4"/>
<path d="M244.4,1609.3 L208,1609.3" stroke="#e01010" stroke-width="1.6"/>
<path d="M195.6,1609.3 L210.5,1604.6 L210.5,1614 Z" fill="#ff0000"/>
<ellipse cx="446.1" cy="1626.5" rx="15.6" ry="24.9" fill="none" stroke="#1010d8" stroke-width="1.4"/>
<path d="M446.1,1601.6 L483,1601.6" stroke="#1010d8" stroke-width="1.6"/>
<path d="M494.7,1601.6 L481,1596.9 L481,1606.3 Z" fill="#0000ff"/>
<path d="M119.5,1337.3 L572.0,1337.3" stroke="#000" stroke-width="1.8"/>
<path d="M119.5,1336.3999999999999 L119.5,1668.4 L572.0,1668.4" fill="none" stroke="#000" stroke-width="1.8"/>
<path d="M572.0,1336.3999999999999 L572.0,1669.3000000000002" stroke="#0000ff" stroke-width="1.8"/>
<path d="M144.60,1668.4 L144.60,1662.4" stroke="#000" stroke-width="1.6"/>
<text x="144.60" y="1694" font-size="24.5" text-anchor="middle">5</text>
<path d="M194.90,1668.4 L194.90,1665.2" stroke="#000" stroke-width="1.6"/>
<path d="M245.20,1668.4 L245.20,1662.4" stroke="#000" stroke-width="1.6"/>
<text x="245.20" y="1694" font-size="24.5" text-anchor="middle">7</text>
<path d="M295.50,1668.4 L295.50,1665.2" stroke="#000" stroke-width="1.6"/>
<path d="M345.80,1668.4 L345.80,1662.4" stroke="#000" stroke-width="1.6"/>
<text x="345.80" y="1694" font-size="24.5" text-anchor="middle">9</text>
<path d="M396.10,1668.4 L396.10,1665.2" stroke="#000" stroke-width="1.6"/>
<path d="M446.40,1668.4 L446.40,1662.4" stroke="#000" stroke-width="1.6"/>
<text x="446.40" y="1694" font-size="24.5" text-anchor="middle">11</text>
<path d="M496.70,1668.4 L496.70,1665.2" stroke="#000" stroke-width="1.6"/>
<path d="M547.00,1668.4 L547.00,1662.4" stroke="#000" stroke-width="1.6"/>
<text x="547.00" y="1694" font-size="24.5" text-anchor="middle">13</text>
<text x="112.8" y="1676.50" font-size="24.5" text-anchor="end">0</text>
<path d="M119.5,1642.35 L122.7,1642.35" stroke="#000" stroke-width="1.6"/>
<path d="M119.5,1616.50 L125.5,1616.50" stroke="#000" stroke-width="1.6"/>
<text x="112.8" y="1624.80" font-size="24.5" text-anchor="end">5000</text>
<path d="M119.5,1590.65 L122.7,1590.65" stroke="#000" stroke-width="1.6"/>
<path d="M119.5,1564.80 L125.5,1564.80" stroke="#000" stroke-width="1.6"/>
<text x="112.8" y="1573.10" font-size="24.5" text-anchor="end">10000</text>
<path d="M119.5,1538.95 L122.7,1538.95" stroke="#000" stroke-width="1.6"/>
<path d="M119.5,1513.10 L125.5,1513.10" stroke="#000" stroke-width="1.6"/>
<text x="112.8" y="1521.40" font-size="24.5" text-anchor="end">15000</text>
<path d="M119.5,1487.25 L122.7,1487.25" stroke="#000" stroke-width="1.6"/>
<path d="M119.5,1461.40 L125.5,1461.40" stroke="#000" stroke-width="1.6"/>
<text x="112.8" y="1469.70" font-size="24.5" text-anchor="end">20000</text>
<path d="M119.5,1435.55 L122.7,1435.55" stroke="#000" stroke-width="1.6"/>
<path d="M119.5,1409.70 L125.5,1409.70" stroke="#000" stroke-width="1.6"/>
<text x="112.8" y="1418.00" font-size="24.5" text-anchor="end">25000</text>
<path d="M119.5,1383.85 L122.7,1383.85" stroke="#000" stroke-width="1.6"/>
<path d="M119.5,1358.00 L125.5,1358.00" stroke="#000" stroke-width="1.6"/>
<text x="112.8" y="1366.30" font-size="24.5" text-anchor="end">30000</text>
<path d="M572.0,1599.90 L566.0,1599.90" stroke="#0000ff" stroke-width="1.6"/>
<text x="580" y="1608.20" font-size="24.5" fill="#0000ff">1050</text>
<path d="M572.0,1530.65 L568.8,1530.65" stroke="#0000ff" stroke-width="1.6"/>
<path d="M572.0,1461.40 L566.0,1461.40" stroke="#0000ff" stroke-width="1.6"/>
<text x="580" y="1469.70" font-size="24.5" fill="#0000ff">1060</text>
<path d="M572.0,1392.15 L568.8,1392.15" stroke="#0000ff" stroke-width="1.6"/>
<text x="2.5" y="1354.8" font-size="25">(d)</text>
<text transform="translate(31.2,1518.5) rotate(-90)" font-size="25" text-anchor="middle">Q factor</text>
<text transform="translate(656.5,1515.6) rotate(-90)" font-size="25" text-anchor="middle" fill="#0000ff">Resonant wavelength (nm)</text>
<text x="345.6" y="1735.5" font-size="25" text-anchor="middle">Array (<tspan font-style="italic">N</tspan>)</text>
</svg></body></html>
